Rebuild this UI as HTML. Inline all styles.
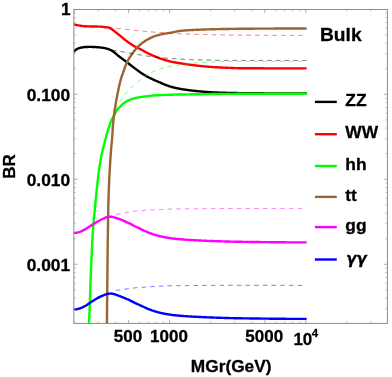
<!DOCTYPE html>
<html><head><meta charset="utf-8"><title>Bulk BR</title>
<style>html,body{margin:0;padding:0;background:#fff}svg{display:block;will-change:transform}</style></head>
<body>
<svg width="392" height="377" viewBox="0 0 392 377">
<rect width="392" height="377" fill="#fff"/>
<defs><clipPath id="c"><rect x="73.85" y="9.5" width="313.54999999999995" height="314.79999999999995"/></clipPath></defs>
<g fill="none" stroke-width="2.4" stroke-linejoin="round" clip-path="url(#c)">
<path d="M73.50 52.00 L74.00 51.46 L74.50 50.95 L75.00 50.47 L75.50 50.04 L76.00 49.66 L76.49 49.34 L76.99 49.05 L77.49 48.79 L77.99 48.54 L78.49 48.33 L78.99 48.15 L79.49 48.00 L79.99 47.88 L80.49 47.77 L80.99 47.66 L81.49 47.55 L81.99 47.46 L82.48 47.37 L82.98 47.29 L83.48 47.21 L83.98 47.15 L84.48 47.10 L84.98 47.05 L85.48 47.02 L85.98 47.00 L86.48 46.98 L86.98 46.96 L87.48 46.95 L87.98 46.94 L88.47 46.92 L88.97 46.92 L89.47 46.91 L89.97 46.90 L90.47 46.90 L90.97 46.90 L91.47 46.91 L91.97 46.91 L92.47 46.93 L92.97 46.95 L93.47 46.97 L93.96 46.99 L94.46 47.02 L94.96 47.04 L95.46 47.08 L95.96 47.11 L96.46 47.14 L96.96 47.18 L97.46 47.21 L97.96 47.25 L98.46 47.29 L98.96 47.33 L99.46 47.37 L99.95 47.42 L100.45 47.48 L100.95 47.54 L101.45 47.61 L101.95 47.68 L102.45 47.75 L102.95 47.83 L103.45 47.91 L103.95 47.99 L104.45 48.08 L104.95 48.18 L105.45 48.29 L105.94 48.41 L106.44 48.54 L106.94 48.67 L107.44 48.81 L107.94 48.96 L108.44 49.12 L108.94 49.30 L109.44 49.50 L109.94 49.72 L110.44 49.97 L110.94 50.23 L111.43 50.51 L111.93 50.80 L112.43 51.11 L112.93 51.43 L113.43 51.75 L113.93 52.10 L114.43 52.49 L114.93 52.90 L115.43 53.33 L115.93 53.77 L116.43 54.21 L116.93 54.65 L117.42 55.07 L117.92 55.48 L118.42 55.88 L118.92 56.27 L119.42 56.66 L119.92 57.04 L120.42 57.42 L120.92 57.79 L121.42 58.16 L121.92 58.52 L122.42 58.89 L122.92 59.25 L123.41 59.61 L123.91 59.97 L124.41 60.34 L124.91 60.71 L125.41 61.08 L125.91 61.46 L126.41 61.85 L126.91 62.23 L127.41 62.62 L127.91 63.01 L128.41 63.40 L128.90 63.79 L129.40 64.18 L129.90 64.56 L130.40 64.95 L130.90 65.33 L131.40 65.71 L131.90 66.09 L132.40 66.47 L132.90 66.85 L133.40 67.22 L133.90 67.60 L134.40 67.97 L134.89 68.35 L135.39 68.72 L135.89 69.09 L136.39 69.47 L136.89 69.85 L137.39 70.23 L137.89 70.61 L138.39 70.98 L138.89 71.36 L139.39 71.73 L139.89 72.09 L140.39 72.44 L140.88 72.79 L141.38 73.12 L141.88 73.45 L142.38 73.77 L142.88 74.08 L143.38 74.39 L143.88 74.69 L144.38 74.99 L144.88 75.28 L145.38 75.57 L145.88 75.85 L146.37 76.13 L146.87 76.41 L147.37 76.67 L147.87 76.94 L148.37 77.20 L148.87 77.46 L149.37 77.71 L149.87 77.96 L150.37 78.21 L150.87 78.45 L151.37 78.69 L151.87 78.93 L152.36 79.17 L152.86 79.40 L153.36 79.64 L153.86 79.87 L154.36 80.09 L154.86 80.32 L155.36 80.54 L155.86 80.76 L156.36 80.98 L156.86 81.20 L157.36 81.41 L157.86 81.62 L158.35 81.82 L158.85 82.03 L159.35 82.23 L159.85 82.44 L160.35 82.65 L160.85 82.87 L161.35 83.09 L161.85 83.32 L162.35 83.54 L162.85 83.76 L163.35 83.97 L163.84 84.18 L164.34 84.38 L164.84 84.57 L165.34 84.77 L165.84 84.96 L166.34 85.15 L166.84 85.34 L167.34 85.53 L167.84 85.71 L168.34 85.89 L168.84 86.07 L169.34 86.24 L169.83 86.41 L170.33 86.57 L170.83 86.72 L171.33 86.87 L171.83 87.01 L172.33 87.14 L172.83 87.28 L173.33 87.40 L173.83 87.53 L174.33 87.65 L174.83 87.77 L175.33 87.89 L175.82 88.00 L176.32 88.11 L176.82 88.22 L177.32 88.32 L177.82 88.42 L178.32 88.52 L178.82 88.62 L179.32 88.71 L179.82 88.80 L180.32 88.89 L180.82 88.98 L181.31 89.06 L181.81 89.15 L182.31 89.23 L182.81 89.31 L183.31 89.38 L183.81 89.46 L184.31 89.53 L184.81 89.60 L185.31 89.68 L185.81 89.74 L186.31 89.81 L186.81 89.88 L187.30 89.95 L187.80 90.01 L188.30 90.08 L188.80 90.14 L189.30 90.21 L189.80 90.27 L190.30 90.34 L190.80 90.40 L191.30 90.46 L191.80 90.52 L192.30 90.59 L192.80 90.65 L193.29 90.71 L193.79 90.76 L194.29 90.82 L194.79 90.88 L195.29 90.94 L195.79 90.99 L196.29 91.04 L196.79 91.10 L197.29 91.15 L197.79 91.20 L198.29 91.24 L198.79 91.29 L199.28 91.34 L199.78 91.38 L200.28 91.42 L200.78 91.47 L201.28 91.51 L201.78 91.55 L202.28 91.59 L202.78 91.63 L203.28 91.67 L203.78 91.71 L204.28 91.75 L204.77 91.79 L205.27 91.83 L205.77 91.87 L206.27 91.91 L206.77 91.94 L207.27 91.98 L207.77 92.01 L208.27 92.05 L208.77 92.08 L209.27 92.12 L209.77 92.15 L210.27 92.18 L210.76 92.21 L211.26 92.24 L211.76 92.27 L212.26 92.30 L212.76 92.33 L213.26 92.35 L213.76 92.38 L214.26 92.40 L214.76 92.43 L215.26 92.45 L215.76 92.47 L216.26 92.49 L216.75 92.51 L217.25 92.53 L217.75 92.55 L218.25 92.57 L218.75 92.58 L219.25 92.60 L219.75 92.62 L220.25 92.64 L220.75 92.65 L221.25 92.67 L221.75 92.69 L222.24 92.70 L222.74 92.72 L223.24 92.73 L223.74 92.75 L224.24 92.77 L224.74 92.78 L225.24 92.80 L225.74 92.81 L226.24 92.82 L226.74 92.84 L227.24 92.85 L227.74 92.87 L228.23 92.88 L228.73 92.89 L229.23 92.90 L229.73 92.92 L230.23 92.93 L230.73 92.94 L231.23 92.95 L231.73 92.96 L232.23 92.97 L232.73 92.98 L233.23 92.99 L233.73 93.00 L234.22 93.01 L234.72 93.02 L235.22 93.03 L235.72 93.04 L236.22 93.05 L236.72 93.06 L237.22 93.06 L237.72 93.07 L238.22 93.08 L238.72 93.08 L239.22 93.09 L239.71 93.10 L240.21 93.10 L240.71 93.11 L241.21 93.11 L241.71 93.12 L242.21 93.12 L242.71 93.13 L243.21 93.13 L243.71 93.14 L244.21 93.14 L244.71 93.15 L245.21 93.15 L245.70 93.16 L246.20 93.16 L246.70 93.17 L247.20 93.17 L247.70 93.18 L248.20 93.18 L248.70 93.19 L249.20 93.19 L249.70 93.20 L250.20 93.20 L250.70 93.21 L251.20 93.21 L251.69 93.22 L252.19 93.22 L252.69 93.23 L253.19 93.23 L253.69 93.24 L254.19 93.24 L254.69 93.25 L255.19 93.25 L255.69 93.26 L256.19 93.26 L256.69 93.26 L257.18 93.27 L257.68 93.27 L258.18 93.28 L258.68 93.28 L259.18 93.29 L259.68 93.29 L260.18 93.29 L260.68 93.30 L261.18 93.30 L261.68 93.31 L262.18 93.31 L262.68 93.31 L263.17 93.32 L263.67 93.32 L264.17 93.33 L264.67 93.33 L265.17 93.33 L265.67 93.34 L266.17 93.34 L266.67 93.34 L267.17 93.35 L267.67 93.35 L268.17 93.36 L268.67 93.36 L269.16 93.36 L269.66 93.37 L270.16 93.37 L270.66 93.37 L271.16 93.38 L271.66 93.38 L272.16 93.38 L272.66 93.39 L273.16 93.39 L273.66 93.39 L274.16 93.40 L274.65 93.40 L275.15 93.40 L275.65 93.40 L276.15 93.41 L276.65 93.41 L277.15 93.41 L277.65 93.42 L278.15 93.42 L278.65 93.42 L279.15 93.42 L279.65 93.43 L280.15 93.43 L280.64 93.43 L281.14 93.43 L281.64 93.44 L282.14 93.44 L282.64 93.44 L283.14 93.44 L283.64 93.45 L284.14 93.45 L284.64 93.45 L285.14 93.45 L285.64 93.45 L286.14 93.46 L286.63 93.46 L287.13 93.46 L287.63 93.46 L288.13 93.46 L288.63 93.47 L289.13 93.47 L289.63 93.47 L290.13 93.47 L290.63 93.47 L291.13 93.48 L291.63 93.48 L292.12 93.48 L292.62 93.48 L293.12 93.48 L293.62 93.48 L294.12 93.48 L294.62 93.48 L295.12 93.49 L295.62 93.49 L296.12 93.49 L296.62 93.49 L297.12 93.49 L297.62 93.49 L298.11 93.49 L298.61 93.49 L299.11 93.49 L299.61 93.49 L300.11 93.50 L300.61 93.50 L301.11 93.50 L301.61 93.50 L302.11 93.50 L302.61 93.50 L303.11 93.50 L303.61 93.50 L304.10 93.50 L304.60 93.50 L305.10 93.50 L305.60 93.50 L306.10 93.50 L306.60 93.50" stroke="#000"/>
<path d="M73.50 24.30 L74.00 24.43 L74.50 24.56 L75.00 24.69 L75.50 24.81 L76.00 24.93 L76.49 25.04 L76.99 25.15 L77.49 25.25 L77.99 25.35 L78.49 25.44 L78.99 25.52 L79.49 25.60 L79.99 25.67 L80.49 25.74 L80.99 25.81 L81.49 25.88 L81.99 25.95 L82.48 26.01 L82.98 26.07 L83.48 26.12 L83.98 26.17 L84.48 26.21 L84.98 26.25 L85.48 26.28 L85.98 26.30 L86.48 26.32 L86.98 26.34 L87.48 26.36 L87.98 26.37 L88.47 26.38 L88.97 26.40 L89.47 26.41 L89.97 26.42 L90.47 26.43 L90.97 26.44 L91.47 26.45 L91.97 26.46 L92.47 26.47 L92.97 26.48 L93.47 26.49 L93.96 26.50 L94.46 26.51 L94.96 26.52 L95.46 26.53 L95.96 26.54 L96.46 26.55 L96.96 26.56 L97.46 26.57 L97.96 26.58 L98.46 26.59 L98.96 26.60 L99.46 26.61 L99.95 26.63 L100.45 26.64 L100.95 26.66 L101.45 26.68 L101.95 26.71 L102.45 26.76 L102.95 26.84 L103.45 26.93 L103.95 27.03 L104.45 27.12 L104.95 27.19 L105.45 27.25 L105.94 27.29 L106.44 27.32 L106.94 27.36 L107.44 27.40 L107.94 27.46 L108.44 27.55 L108.94 27.70 L109.44 27.90 L109.94 28.16 L110.44 28.44 L110.94 28.73 L111.43 29.02 L111.93 29.33 L112.43 29.67 L112.93 30.05 L113.43 30.44 L113.93 30.84 L114.43 31.26 L114.93 31.66 L115.43 32.07 L115.93 32.45 L116.43 32.84 L116.93 33.24 L117.42 33.63 L117.92 34.02 L118.42 34.42 L118.92 34.82 L119.42 35.22 L119.92 35.62 L120.42 36.01 L120.92 36.41 L121.42 36.82 L121.92 37.23 L122.42 37.64 L122.92 38.06 L123.41 38.47 L123.91 38.88 L124.41 39.29 L124.91 39.70 L125.41 40.09 L125.91 40.48 L126.41 40.86 L126.91 41.23 L127.41 41.59 L127.91 41.95 L128.41 42.31 L128.90 42.66 L129.40 43.00 L129.90 43.34 L130.40 43.68 L130.90 44.01 L131.40 44.34 L131.90 44.66 L132.40 44.98 L132.90 45.31 L133.40 45.62 L133.90 45.94 L134.40 46.25 L134.89 46.55 L135.39 46.84 L135.89 47.12 L136.39 47.39 L136.89 47.65 L137.39 47.88 L137.89 48.10 L138.39 48.31 L138.89 48.51 L139.39 48.72 L139.89 48.95 L140.39 49.19 L140.88 49.44 L141.38 49.70 L141.88 49.96 L142.38 50.23 L142.88 50.51 L143.38 50.79 L143.88 51.07 L144.38 51.35 L144.88 51.64 L145.38 51.92 L145.88 52.19 L146.37 52.46 L146.87 52.73 L147.37 52.99 L147.87 53.24 L148.37 53.48 L148.87 53.72 L149.37 53.96 L149.87 54.19 L150.37 54.42 L150.87 54.65 L151.37 54.88 L151.87 55.10 L152.36 55.32 L152.86 55.54 L153.36 55.75 L153.86 55.96 L154.36 56.17 L154.86 56.38 L155.36 56.58 L155.86 56.78 L156.36 56.98 L156.86 57.18 L157.36 57.38 L157.86 57.57 L158.35 57.76 L158.85 57.95 L159.35 58.14 L159.85 58.32 L160.35 58.51 L160.85 58.69 L161.35 58.86 L161.85 59.03 L162.35 59.20 L162.85 59.37 L163.35 59.53 L163.84 59.68 L164.34 59.84 L164.84 59.99 L165.34 60.13 L165.84 60.28 L166.34 60.42 L166.84 60.57 L167.34 60.71 L167.84 60.84 L168.34 60.97 L168.84 61.10 L169.34 61.23 L169.83 61.35 L170.33 61.47 L170.83 61.59 L171.33 61.70 L171.83 61.81 L172.33 61.91 L172.83 62.01 L173.33 62.11 L173.83 62.20 L174.33 62.29 L174.83 62.38 L175.33 62.47 L175.82 62.55 L176.32 62.64 L176.82 62.72 L177.32 62.80 L177.82 62.88 L178.32 62.96 L178.82 63.04 L179.32 63.12 L179.82 63.20 L180.32 63.28 L180.82 63.36 L181.31 63.44 L181.81 63.52 L182.31 63.60 L182.81 63.68 L183.31 63.75 L183.81 63.83 L184.31 63.91 L184.81 63.98 L185.31 64.05 L185.81 64.13 L186.31 64.20 L186.81 64.27 L187.30 64.34 L187.80 64.41 L188.30 64.49 L188.80 64.56 L189.30 64.63 L189.80 64.70 L190.30 64.77 L190.80 64.84 L191.30 64.91 L191.80 64.97 L192.30 65.04 L192.80 65.11 L193.29 65.17 L193.79 65.24 L194.29 65.30 L194.79 65.36 L195.29 65.42 L195.79 65.48 L196.29 65.53 L196.79 65.59 L197.29 65.64 L197.79 65.70 L198.29 65.75 L198.79 65.81 L199.28 65.86 L199.78 65.91 L200.28 65.97 L200.78 66.02 L201.28 66.07 L201.78 66.12 L202.28 66.17 L202.78 66.22 L203.28 66.27 L203.78 66.32 L204.28 66.37 L204.77 66.42 L205.27 66.46 L205.77 66.51 L206.27 66.55 L206.77 66.60 L207.27 66.64 L207.77 66.68 L208.27 66.72 L208.77 66.77 L209.27 66.80 L209.77 66.84 L210.27 66.88 L210.76 66.92 L211.26 66.95 L211.76 66.98 L212.26 67.02 L212.76 67.05 L213.26 67.08 L213.76 67.11 L214.26 67.14 L214.76 67.17 L215.26 67.20 L215.76 67.23 L216.26 67.26 L216.75 67.28 L217.25 67.31 L217.75 67.34 L218.25 67.36 L218.75 67.39 L219.25 67.41 L219.75 67.44 L220.25 67.46 L220.75 67.49 L221.25 67.51 L221.75 67.53 L222.24 67.56 L222.74 67.58 L223.24 67.60 L223.74 67.62 L224.24 67.65 L224.74 67.67 L225.24 67.69 L225.74 67.71 L226.24 67.73 L226.74 67.75 L227.24 67.77 L227.74 67.79 L228.23 67.81 L228.73 67.83 L229.23 67.85 L229.73 67.87 L230.23 67.89 L230.73 67.91 L231.23 67.94 L231.73 67.96 L232.23 67.98 L232.73 68.00 L233.23 68.02 L233.73 68.04 L234.22 68.06 L234.72 68.08 L235.22 68.09 L235.72 68.11 L236.22 68.13 L236.72 68.14 L237.22 68.15 L237.72 68.17 L238.22 68.18 L238.72 68.19 L239.22 68.19 L239.71 68.20 L240.21 68.20 L240.71 68.20 L241.21 68.21 L241.71 68.21 L242.21 68.21 L242.71 68.22 L243.21 68.22 L243.71 68.22 L244.21 68.23 L244.71 68.23 L245.21 68.23 L245.70 68.24 L246.20 68.24 L246.70 68.24 L247.20 68.25 L247.70 68.25 L248.20 68.25 L248.70 68.25 L249.20 68.26 L249.70 68.26 L250.20 68.26 L250.70 68.27 L251.20 68.27 L251.69 68.27 L252.19 68.27 L252.69 68.28 L253.19 68.28 L253.69 68.28 L254.19 68.28 L254.69 68.29 L255.19 68.29 L255.69 68.29 L256.19 68.29 L256.69 68.30 L257.18 68.30 L257.68 68.30 L258.18 68.30 L258.68 68.30 L259.18 68.31 L259.68 68.31 L260.18 68.31 L260.68 68.31 L261.18 68.32 L261.68 68.32 L262.18 68.32 L262.68 68.32 L263.17 68.32 L263.67 68.33 L264.17 68.33 L264.67 68.33 L265.17 68.33 L265.67 68.33 L266.17 68.33 L266.67 68.34 L267.17 68.34 L267.67 68.34 L268.17 68.34 L268.67 68.34 L269.16 68.34 L269.66 68.35 L270.16 68.35 L270.66 68.35 L271.16 68.35 L271.66 68.35 L272.16 68.35 L272.66 68.36 L273.16 68.36 L273.66 68.36 L274.16 68.36 L274.65 68.36 L275.15 68.36 L275.65 68.36 L276.15 68.36 L276.65 68.37 L277.15 68.37 L277.65 68.37 L278.15 68.37 L278.65 68.37 L279.15 68.37 L279.65 68.37 L280.15 68.37 L280.64 68.37 L281.14 68.38 L281.64 68.38 L282.14 68.38 L282.64 68.38 L283.14 68.38 L283.64 68.38 L284.14 68.38 L284.64 68.38 L285.14 68.38 L285.64 68.38 L286.14 68.38 L286.63 68.39 L287.13 68.39 L287.63 68.39 L288.13 68.39 L288.63 68.39 L289.13 68.39 L289.63 68.39 L290.13 68.39 L290.63 68.39 L291.13 68.39 L291.63 68.39 L292.12 68.39 L292.62 68.39 L293.12 68.39 L293.62 68.39 L294.12 68.39 L294.62 68.39 L295.12 68.40 L295.62 68.40 L296.12 68.40 L296.62 68.40 L297.12 68.40 L297.62 68.40 L298.11 68.40 L298.61 68.40 L299.11 68.40 L299.61 68.40 L300.11 68.40 L300.61 68.40 L301.11 68.40 L301.61 68.40 L302.11 68.40 L302.61 68.40 L303.11 68.40 L303.61 68.40 L304.10 68.40 L304.60 68.40 L305.10 68.40 L305.60 68.40 L306.10 68.40 L306.60 68.40" stroke="#f00"/>
<path d="M89.00 324.00 L89.02 323.50 L89.04 323.00 L89.06 322.50 L89.08 322.00 L89.10 321.50 L89.12 321.00 L89.15 320.51 L89.17 320.01 L89.19 319.51 L89.21 319.01 L89.23 318.51 L89.25 318.01 L89.27 317.51 L89.29 317.01 L89.31 316.51 L89.33 316.01 L89.35 315.51 L89.37 315.01 L89.39 314.51 L89.41 314.02 L89.43 313.52 L89.44 313.02 L89.46 312.52 L89.48 312.02 L89.50 311.52 L89.52 311.02 L89.54 310.52 L89.56 310.02 L89.58 309.52 L89.60 309.02 L89.62 308.52 L89.64 308.02 L89.66 307.53 L89.67 307.03 L89.69 306.53 L89.71 306.03 L89.73 305.53 L89.75 305.03 L89.77 304.53 L89.79 304.03 L89.80 303.53 L89.82 303.03 L89.84 302.53 L89.86 302.03 L89.88 301.53 L89.90 301.03 L89.91 300.54 L89.93 300.04 L89.95 299.54 L89.97 299.04 L89.98 298.54 L90.00 298.04 L90.02 297.54 L90.04 297.04 L90.06 296.54 L90.07 296.04 L90.09 295.54 L90.11 295.04 L90.13 294.54 L90.14 294.04 L90.16 293.54 L90.18 293.05 L90.19 292.55 L90.21 292.05 L90.23 291.55 L90.25 291.05 L90.26 290.55 L90.28 290.05 L90.29 289.55 L90.31 289.05 L90.32 288.55 L90.34 288.05 L90.36 287.55 L90.37 287.05 L90.39 286.55 L90.40 286.05 L90.42 285.56 L90.43 285.06 L90.45 284.56 L90.46 284.06 L90.48 283.56 L90.50 283.06 L90.51 282.56 L90.53 282.06 L90.55 281.56 L90.56 281.06 L90.58 280.56 L90.60 280.06 L90.62 279.56 L90.63 279.06 L90.65 278.56 L90.67 278.07 L90.69 277.57 L90.71 277.07 L90.73 276.57 L90.75 276.07 L90.77 275.57 L90.79 275.07 L90.80 274.57 L90.82 274.07 L90.84 273.57 L90.86 273.07 L90.88 272.57 L90.90 272.07 L90.92 271.57 L90.94 271.08 L90.96 270.58 L90.98 270.08 L91.01 269.58 L91.03 269.08 L91.05 268.58 L91.07 268.08 L91.09 267.58 L91.11 267.08 L91.13 266.58 L91.15 266.08 L91.17 265.58 L91.20 265.09 L91.22 264.59 L91.24 264.09 L91.26 263.59 L91.28 263.09 L91.31 262.59 L91.33 262.09 L91.35 261.59 L91.37 261.09 L91.40 260.59 L91.42 260.09 L91.44 259.59 L91.46 259.10 L91.49 258.60 L91.51 258.10 L91.53 257.60 L91.56 257.10 L91.58 256.60 L91.60 256.10 L91.63 255.60 L91.65 255.10 L91.68 254.60 L91.70 254.10 L91.72 253.61 L91.75 253.11 L91.77 252.61 L91.80 252.11 L91.82 251.61 L91.85 251.11 L91.87 250.61 L91.89 250.11 L91.92 249.61 L91.94 249.11 L91.97 248.62 L91.99 248.12 L92.02 247.62 L92.04 247.12 L92.07 246.62 L92.09 246.12 L92.12 245.62 L92.14 245.12 L92.17 244.62 L92.19 244.12 L92.22 243.63 L92.24 243.13 L92.27 242.63 L92.29 242.13 L92.32 241.63 L92.35 241.13 L92.37 240.63 L92.40 240.13 L92.43 239.63 L92.45 239.13 L92.48 238.63 L92.51 238.14 L92.53 237.64 L92.56 237.14 L92.59 236.64 L92.62 236.14 L92.65 235.64 L92.67 235.14 L92.70 234.64 L92.73 234.14 L92.76 233.65 L92.79 233.15 L92.82 232.65 L92.85 232.15 L92.88 231.65 L92.92 231.15 L92.95 230.65 L92.98 230.16 L93.01 229.66 L93.04 229.16 L93.08 228.66 L93.11 228.16 L93.15 227.66 L93.18 227.17 L93.22 226.67 L93.25 226.17 L93.29 225.67 L93.32 225.17 L93.36 224.67 L93.40 224.18 L93.44 223.68 L93.49 223.18 L93.53 222.68 L93.58 222.19 L93.62 221.69 L93.67 221.19 L93.72 220.69 L93.76 220.20 L93.81 219.70 L93.86 219.20 L93.91 218.71 L93.97 218.21 L94.02 217.71 L94.07 217.21 L94.12 216.72 L94.17 216.22 L94.23 215.72 L94.28 215.23 L94.33 214.73 L94.38 214.23 L94.43 213.74 L94.48 213.24 L94.53 212.74 L94.58 212.24 L94.63 211.75 L94.68 211.25 L94.73 210.75 L94.78 210.25 L94.82 209.76 L94.87 209.26 L94.91 208.76 L94.96 208.26 L95.00 207.77 L95.04 207.27 L95.09 206.77 L95.13 206.27 L95.17 205.78 L95.22 205.28 L95.26 204.78 L95.30 204.28 L95.35 203.78 L95.39 203.29 L95.44 202.79 L95.48 202.29 L95.53 201.79 L95.58 201.30 L95.62 200.80 L95.67 200.30 L95.72 199.80 L95.76 199.31 L95.81 198.81 L95.86 198.31 L95.91 197.81 L95.95 197.32 L96.00 196.82 L96.05 196.32 L96.10 195.83 L96.15 195.33 L96.20 194.83 L96.25 194.33 L96.29 193.84 L96.34 193.34 L96.39 192.84 L96.44 192.34 L96.49 191.85 L96.55 191.35 L96.60 190.85 L96.65 190.36 L96.70 189.86 L96.75 189.36 L96.80 188.87 L96.86 188.37 L96.91 187.87 L96.96 187.38 L97.02 186.88 L97.07 186.38 L97.12 185.89 L97.18 185.39 L97.23 184.89 L97.29 184.40 L97.34 183.90 L97.40 183.40 L97.46 182.91 L97.51 182.41 L97.57 181.91 L97.62 181.42 L97.68 180.92 L97.74 180.42 L97.79 179.93 L97.85 179.43 L97.91 178.93 L97.97 178.44 L98.03 177.94 L98.09 177.45 L98.15 176.95 L98.21 176.45 L98.27 175.96 L98.33 175.46 L98.39 174.96 L98.45 174.47 L98.51 173.97 L98.58 173.48 L98.64 172.98 L98.71 172.49 L98.77 171.99 L98.84 171.50 L98.91 171.00 L98.97 170.51 L99.04 170.01 L99.11 169.52 L99.18 169.02 L99.25 168.53 L99.32 168.03 L99.40 167.54 L99.47 167.05 L99.55 166.55 L99.62 166.06 L99.70 165.57 L99.78 165.07 L99.86 164.58 L99.94 164.09 L100.02 163.59 L100.10 163.10 L100.19 162.61 L100.27 162.11 L100.36 161.62 L100.44 161.13 L100.53 160.64 L100.62 160.14 L100.71 159.65 L100.80 159.16 L100.89 158.67 L100.98 158.18 L101.08 157.69 L101.17 157.20 L101.26 156.71 L101.36 156.22 L101.46 155.73 L101.55 155.24 L101.65 154.75 L101.75 154.26 L101.85 153.77 L101.96 153.28 L102.06 152.79 L102.17 152.30 L102.28 151.82 L102.39 151.33 L102.50 150.84 L102.61 150.35 L102.72 149.87 L102.84 149.38 L102.95 148.89 L103.07 148.41 L103.19 147.92 L103.30 147.44 L103.42 146.95 L103.54 146.47 L103.66 145.98 L103.78 145.50 L103.90 145.01 L104.02 144.53 L104.14 144.04 L104.26 143.56 L104.38 143.07 L104.51 142.59 L104.63 142.10 L104.76 141.62 L104.89 141.14 L105.02 140.65 L105.14 140.17 L105.27 139.69 L105.40 139.21 L105.54 138.72 L105.67 138.24 L105.80 137.76 L105.93 137.28 L106.07 136.80 L106.20 136.32 L106.33 135.84 L106.47 135.35 L106.60 134.87 L106.74 134.39 L106.88 133.91 L107.02 133.43 L107.15 132.95 L107.29 132.47 L107.43 131.99 L107.58 131.51 L107.72 131.03 L107.86 130.55 L108.01 130.08 L108.16 129.60 L108.31 129.12 L108.46 128.65 L108.61 128.17 L108.76 127.70 L108.92 127.22 L109.07 126.75 L109.23 126.27 L109.39 125.79 L109.55 125.32 L109.71 124.84 L109.87 124.37 L110.04 123.90 L110.21 123.43 L110.38 122.96 L110.56 122.49 L110.74 122.03 L110.92 121.57 L111.11 121.11 L111.31 120.65 L111.51 120.20 L111.72 119.74 L111.94 119.30 L112.17 118.85 L112.40 118.41 L112.63 117.96 L112.87 117.52 L113.10 117.08 L113.34 116.64 L113.58 116.20 L113.82 115.76 L114.05 115.32 L114.28 114.87 L114.51 114.42 L114.74 113.97 L114.97 113.53 L115.21 113.08 L115.44 112.64 L115.69 112.21 L115.94 111.78 L116.20 111.36 L116.47 110.94 L116.75 110.54 L117.05 110.14 L117.35 109.75 L117.67 109.36 L117.99 108.98 L118.32 108.60 L118.66 108.22 L119.00 107.85 L119.35 107.49 L119.69 107.12 L120.04 106.77 L120.39 106.41 L120.74 106.05 L121.09 105.70 L121.45 105.34 L121.81 104.99 L122.17 104.64 L122.54 104.30 L122.92 103.96 L123.30 103.63 L123.68 103.32 L124.07 103.01 L124.47 102.72 L124.87 102.44 L125.29 102.17 L125.71 101.90 L126.14 101.64 L126.57 101.39 L127.01 101.14 L127.46 100.90 L127.90 100.67 L128.36 100.44 L128.81 100.23 L129.27 100.03 L129.72 99.83 L130.18 99.65 L130.64 99.47 L131.11 99.29 L131.58 99.13 L132.06 98.96 L132.54 98.81 L133.02 98.66 L133.50 98.52 L133.98 98.38 L134.47 98.25 L134.95 98.14 L135.43 98.02 L135.92 97.92 L136.41 97.82 L136.90 97.72 L137.39 97.63 L137.89 97.55 L138.38 97.46 L138.87 97.38 L139.37 97.30 L139.86 97.22 L140.35 97.14 L140.85 97.07 L141.34 96.99 L141.84 96.92 L142.33 96.84 L142.82 96.77 L143.32 96.70 L143.81 96.63 L144.31 96.57 L144.80 96.50 L145.30 96.43 L145.80 96.37 L146.29 96.31 L146.79 96.25 L147.28 96.18 L147.78 96.13 L148.28 96.07 L148.77 96.01 L149.27 95.95 L149.76 95.89 L150.26 95.83 L150.76 95.78 L151.25 95.72 L151.75 95.66 L152.25 95.61 L152.75 95.56 L153.24 95.51 L153.74 95.46 L154.24 95.42 L154.74 95.38 L155.23 95.34 L155.73 95.31 L156.23 95.28 L156.73 95.25 L157.23 95.23 L157.72 95.20 L158.22 95.17 L158.72 95.15 L159.22 95.13 L159.72 95.10 L160.22 95.08 L160.72 95.06 L161.22 95.04 L161.72 95.02 L162.22 95.00 L162.72 94.98 L163.21 94.96 L163.71 94.94 L164.21 94.92 L164.71 94.90 L165.21 94.89 L165.71 94.87 L166.21 94.86 L166.71 94.84 L167.21 94.82 L167.71 94.81 L168.21 94.80 L168.71 94.78 L169.21 94.77 L169.71 94.75 L170.21 94.74 L170.71 94.73 L171.21 94.71 L171.71 94.70 L172.21 94.69 L172.71 94.68 L173.21 94.67 L173.71 94.65 L174.21 94.64 L174.70 94.63 L175.20 94.62 L175.70 94.61 L176.20 94.60 L176.70 94.59 L177.20 94.57 L177.70 94.56 L178.20 94.55 L178.70 94.54 L179.20 94.53 L179.70 94.52 L180.20 94.51 L180.70 94.50 L181.20 94.49 L181.70 94.48 L182.20 94.47 L182.70 94.46 L183.20 94.46 L183.70 94.45 L184.20 94.44 L184.69 94.43 L185.19 94.42 L185.69 94.41 L186.19 94.40 L186.69 94.39 L187.19 94.39 L187.69 94.38 L188.19 94.37 L188.69 94.36 L189.19 94.35 L189.69 94.35 L190.19 94.34 L190.69 94.33 L191.19 94.32 L191.69 94.32 L192.19 94.31 L192.69 94.30 L193.19 94.29 L193.69 94.29 L194.19 94.28 L194.69 94.27 L195.19 94.26 L195.69 94.26 L196.19 94.25 L196.69 94.24 L197.18 94.24 L197.68 94.23 L198.18 94.22 L198.68 94.22 L199.18 94.21 L199.68 94.20 L200.18 94.20 L200.68 94.19 L201.18 94.18 L201.68 94.18 L202.18 94.17 L202.68 94.17 L203.18 94.16 L203.68 94.15 L204.18 94.15 L204.68 94.14 L205.18 94.13 L205.68 94.13 L206.18 94.12 L206.68 94.11 L207.18 94.11 L207.68 94.10 L208.18 94.09 L208.67 94.09 L209.17 94.08 L209.67 94.07 L210.17 94.07 L210.67 94.06 L211.17 94.05 L211.67 94.05 L212.17 94.04 L212.67 94.04 L213.17 94.03 L213.67 94.02 L214.17 94.02 L214.67 94.01 L215.17 94.01 L215.67 94.00 L216.17 93.99 L216.67 93.99 L217.17 93.98 L217.67 93.98 L218.17 93.97 L218.67 93.96 L219.17 93.96 L219.67 93.95 L220.17 93.95 L220.67 93.94 L221.16 93.94 L221.66 93.93 L222.16 93.93 L222.66 93.92 L223.16 93.92 L223.66 93.91 L224.16 93.91 L224.66 93.90 L225.16 93.90 L225.66 93.89 L226.16 93.89 L226.66 93.88 L227.16 93.88 L227.66 93.87 L228.16 93.87 L228.66 93.86 L229.16 93.86 L229.66 93.86 L230.16 93.85 L230.66 93.85 L231.16 93.85 L231.66 93.84 L232.16 93.84 L232.66 93.83 L233.16 93.83 L233.66 93.83 L234.15 93.83 L234.65 93.82 L235.15 93.82 L235.65 93.82 L236.15 93.81 L236.65 93.81 L237.15 93.81 L237.65 93.81 L238.15 93.81 L238.65 93.80 L239.15 93.80 L239.65 93.80 L240.15 93.80 L240.65 93.80 L241.15 93.80 L241.65 93.80 L242.15 93.79 L242.65 93.79 L243.15 93.79 L243.65 93.79 L244.15 93.79 L244.65 93.79 L245.15 93.79 L245.65 93.78 L246.15 93.78 L246.64 93.78 L247.14 93.78 L247.64 93.78 L248.14 93.78 L248.64 93.78 L249.14 93.78 L249.64 93.77 L250.14 93.77 L250.64 93.77 L251.14 93.77 L251.64 93.77 L252.14 93.77 L252.64 93.77 L253.14 93.77 L253.64 93.77 L254.14 93.76 L254.64 93.76 L255.14 93.76 L255.64 93.76 L256.14 93.76 L256.64 93.76 L257.14 93.76 L257.64 93.76 L258.14 93.76 L258.64 93.75 L259.14 93.75 L259.63 93.75 L260.13 93.75 L260.63 93.75 L261.13 93.75 L261.63 93.75 L262.13 93.75 L262.63 93.75 L263.13 93.74 L263.63 93.74 L264.13 93.74 L264.63 93.74 L265.13 93.74 L265.63 93.74 L266.13 93.74 L266.63 93.74 L267.13 93.74 L267.63 93.74 L268.13 93.74 L268.63 93.73 L269.13 93.73 L269.63 93.73 L270.13 93.73 L270.63 93.73 L271.13 93.73 L271.63 93.73 L272.13 93.73 L272.63 93.73 L273.12 93.73 L273.62 93.73 L274.12 93.73 L274.62 93.72 L275.12 93.72 L275.62 93.72 L276.12 93.72 L276.62 93.72 L277.12 93.72 L277.62 93.72 L278.12 93.72 L278.62 93.72 L279.12 93.72 L279.62 93.72 L280.12 93.72 L280.62 93.72 L281.12 93.72 L281.62 93.72 L282.12 93.71 L282.62 93.71 L283.12 93.71 L283.62 93.71 L284.12 93.71 L284.62 93.71 L285.12 93.71 L285.62 93.71 L286.12 93.71 L286.61 93.71 L287.11 93.71 L287.61 93.71 L288.11 93.71 L288.61 93.71 L289.11 93.71 L289.61 93.71 L290.11 93.71 L290.61 93.71 L291.11 93.71 L291.61 93.71 L292.11 93.71 L292.61 93.70 L293.11 93.70 L293.61 93.70 L294.11 93.70 L294.61 93.70 L295.11 93.70 L295.61 93.70 L296.11 93.70 L296.61 93.70 L297.11 93.70 L297.61 93.70 L298.11 93.70 L298.61 93.70 L299.11 93.70 L299.61 93.70 L300.10 93.70 L300.60 93.70 L301.10 93.70 L301.60 93.70 L302.10 93.70 L302.60 93.70 L303.10 93.70 L303.60 93.70 L304.10 93.70 L304.60 93.70 L305.10 93.70 L305.60 93.70 L306.10 93.70 L306.60 93.70" stroke="#0f0"/>
<path d="M106.90 324.00 L106.90 323.50 L106.91 323.00 L106.91 322.50 L106.92 322.00 L106.92 321.50 L106.93 321.00 L106.93 320.50 L106.94 320.00 L106.94 319.50 L106.95 319.00 L106.95 318.50 L106.96 318.00 L106.96 317.51 L106.97 317.01 L106.97 316.51 L106.98 316.01 L106.98 315.51 L106.99 315.01 L106.99 314.51 L107.00 314.01 L107.00 313.51 L107.01 313.01 L107.01 312.51 L107.02 312.01 L107.02 311.51 L107.03 311.01 L107.03 310.51 L107.04 310.01 L107.04 309.51 L107.05 309.01 L107.05 308.51 L107.06 308.01 L107.06 307.51 L107.07 307.01 L107.07 306.51 L107.08 306.01 L107.08 305.51 L107.09 305.01 L107.09 304.52 L107.10 304.02 L107.10 303.52 L107.11 303.02 L107.11 302.52 L107.12 302.02 L107.12 301.52 L107.13 301.02 L107.13 300.52 L107.14 300.02 L107.14 299.52 L107.15 299.02 L107.15 298.52 L107.16 298.02 L107.16 297.52 L107.17 297.02 L107.18 296.52 L107.18 296.02 L107.19 295.52 L107.19 295.02 L107.20 294.52 L107.20 294.02 L107.21 293.52 L107.21 293.02 L107.22 292.52 L107.22 292.02 L107.23 291.53 L107.23 291.03 L107.24 290.53 L107.24 290.03 L107.25 289.53 L107.25 289.03 L107.26 288.53 L107.26 288.03 L107.27 287.53 L107.27 287.03 L107.28 286.53 L107.29 286.03 L107.29 285.53 L107.30 285.03 L107.30 284.53 L107.31 284.03 L107.31 283.53 L107.32 283.03 L107.32 282.53 L107.33 282.03 L107.33 281.53 L107.34 281.03 L107.34 280.53 L107.35 280.03 L107.36 279.53 L107.36 279.04 L107.37 278.54 L107.37 278.04 L107.38 277.54 L107.38 277.04 L107.39 276.54 L107.39 276.04 L107.40 275.54 L107.40 275.04 L107.41 274.54 L107.41 274.04 L107.42 273.54 L107.42 273.04 L107.43 272.54 L107.43 272.04 L107.44 271.54 L107.44 271.04 L107.45 270.54 L107.45 270.04 L107.46 269.54 L107.47 269.04 L107.47 268.54 L107.48 268.04 L107.48 267.54 L107.49 267.04 L107.49 266.54 L107.50 266.05 L107.50 265.55 L107.51 265.05 L107.51 264.55 L107.52 264.05 L107.52 263.55 L107.53 263.05 L107.53 262.55 L107.54 262.05 L107.54 261.55 L107.55 261.05 L107.55 260.55 L107.56 260.05 L107.56 259.55 L107.57 259.05 L107.57 258.55 L107.58 258.05 L107.59 257.55 L107.59 257.05 L107.60 256.55 L107.60 256.05 L107.61 255.55 L107.61 255.05 L107.62 254.55 L107.62 254.05 L107.63 253.55 L107.63 253.06 L107.64 252.56 L107.64 252.06 L107.65 251.56 L107.66 251.06 L107.66 250.56 L107.67 250.06 L107.67 249.56 L107.68 249.06 L107.68 248.56 L107.69 248.06 L107.70 247.56 L107.70 247.06 L107.71 246.56 L107.71 246.06 L107.72 245.56 L107.73 245.06 L107.73 244.56 L107.74 244.06 L107.74 243.56 L107.75 243.06 L107.76 242.56 L107.76 242.06 L107.77 241.56 L107.77 241.06 L107.78 240.57 L107.79 240.07 L107.79 239.57 L107.80 239.07 L107.81 238.57 L107.81 238.07 L107.82 237.57 L107.83 237.07 L107.83 236.57 L107.84 236.07 L107.85 235.57 L107.85 235.07 L107.86 234.57 L107.87 234.07 L107.87 233.57 L107.88 233.07 L107.89 232.57 L107.90 232.07 L107.90 231.57 L107.91 231.07 L107.92 230.57 L107.93 230.07 L107.93 229.57 L107.94 229.07 L107.95 228.58 L107.96 228.08 L107.96 227.58 L107.97 227.08 L107.98 226.58 L107.99 226.08 L107.99 225.58 L108.00 225.08 L108.01 224.58 L108.02 224.08 L108.03 223.58 L108.03 223.08 L108.04 222.58 L108.05 222.08 L108.06 221.58 L108.07 221.08 L108.08 220.58 L108.08 220.08 L108.09 219.58 L108.10 219.08 L108.11 218.58 L108.12 218.08 L108.13 217.58 L108.14 217.08 L108.15 216.59 L108.15 216.09 L108.16 215.59 L108.17 215.09 L108.18 214.59 L108.19 214.09 L108.20 213.59 L108.21 213.09 L108.22 212.59 L108.23 212.09 L108.24 211.59 L108.25 211.09 L108.26 210.59 L108.27 210.09 L108.28 209.59 L108.29 209.09 L108.30 208.59 L108.31 208.09 L108.32 207.59 L108.33 207.09 L108.35 206.59 L108.36 206.09 L108.37 205.60 L108.38 205.10 L108.39 204.60 L108.40 204.10 L108.41 203.60 L108.42 203.10 L108.44 202.60 L108.45 202.10 L108.46 201.60 L108.47 201.10 L108.49 200.60 L108.50 200.10 L108.51 199.60 L108.52 199.10 L108.54 198.60 L108.55 198.10 L108.56 197.60 L108.58 197.10 L108.59 196.61 L108.61 196.11 L108.62 195.61 L108.64 195.11 L108.65 194.61 L108.67 194.11 L108.69 193.61 L108.70 193.11 L108.72 192.61 L108.74 192.11 L108.76 191.61 L108.77 191.11 L108.79 190.61 L108.81 190.11 L108.83 189.61 L108.85 189.11 L108.87 188.62 L108.88 188.12 L108.90 187.62 L108.92 187.12 L108.94 186.62 L108.96 186.12 L108.98 185.62 L109.00 185.12 L109.02 184.62 L109.04 184.12 L109.07 183.62 L109.09 183.12 L109.11 182.62 L109.13 182.13 L109.15 181.63 L109.18 181.13 L109.20 180.63 L109.22 180.13 L109.25 179.63 L109.27 179.13 L109.29 178.63 L109.32 178.13 L109.34 177.63 L109.37 177.13 L109.39 176.64 L109.42 176.14 L109.44 175.64 L109.47 175.14 L109.50 174.64 L109.52 174.14 L109.55 173.64 L109.58 173.14 L109.60 172.64 L109.63 172.14 L109.66 171.65 L109.68 171.15 L109.71 170.65 L109.74 170.15 L109.77 169.65 L109.80 169.15 L109.83 168.65 L109.85 168.15 L109.88 167.66 L109.91 167.16 L109.94 166.66 L109.97 166.16 L110.00 165.66 L110.03 165.16 L110.06 164.66 L110.09 164.16 L110.12 163.67 L110.15 163.17 L110.18 162.67 L110.21 162.17 L110.24 161.67 L110.27 161.17 L110.30 160.67 L110.34 160.17 L110.37 159.68 L110.40 159.18 L110.43 158.68 L110.47 158.18 L110.50 157.68 L110.53 157.18 L110.57 156.68 L110.60 156.19 L110.63 155.69 L110.67 155.19 L110.70 154.69 L110.74 154.19 L110.78 153.69 L110.81 153.19 L110.85 152.70 L110.89 152.20 L110.92 151.70 L110.96 151.20 L111.00 150.70 L111.04 150.21 L111.08 149.71 L111.12 149.21 L111.16 148.71 L111.20 148.21 L111.24 147.72 L111.28 147.22 L111.32 146.72 L111.37 146.22 L111.42 145.73 L111.47 145.23 L111.52 144.73 L111.57 144.23 L111.63 143.74 L111.68 143.24 L111.73 142.74 L111.79 142.25 L111.84 141.75 L111.89 141.25 L111.93 140.76 L111.98 140.26 L112.02 139.76 L112.06 139.26 L112.10 138.76 L112.13 138.27 L112.17 137.77 L112.21 137.27 L112.24 136.77 L112.27 136.27 L112.31 135.77 L112.34 135.27 L112.37 134.78 L112.40 134.28 L112.43 133.78 L112.46 133.28 L112.49 132.78 L112.52 132.28 L112.55 131.78 L112.58 131.28 L112.61 130.78 L112.64 130.29 L112.67 129.79 L112.70 129.29 L112.73 128.79 L112.76 128.29 L112.79 127.79 L112.83 127.29 L112.86 126.79 L112.90 126.30 L112.93 125.80 L112.97 125.30 L113.01 124.80 L113.05 124.30 L113.09 123.81 L113.13 123.31 L113.18 122.81 L113.23 122.32 L113.27 121.82 L113.32 121.32 L113.37 120.82 L113.43 120.33 L113.48 119.83 L113.54 119.33 L113.59 118.84 L113.65 118.34 L113.71 117.84 L113.77 117.35 L113.82 116.85 L113.89 116.36 L113.95 115.86 L114.01 115.36 L114.07 114.87 L114.14 114.37 L114.20 113.88 L114.27 113.38 L114.33 112.89 L114.40 112.39 L114.47 111.89 L114.53 111.40 L114.60 110.90 L114.67 110.41 L114.74 109.92 L114.81 109.42 L114.88 108.93 L114.95 108.43 L115.03 107.94 L115.10 107.44 L115.18 106.95 L115.26 106.46 L115.34 105.96 L115.42 105.47 L115.50 104.98 L115.58 104.48 L115.66 103.99 L115.74 103.50 L115.83 103.01 L115.91 102.51 L116.00 102.02 L116.08 101.53 L116.17 101.04 L116.26 100.54 L116.34 100.05 L116.43 99.56 L116.52 99.07 L116.61 98.58 L116.70 98.09 L116.80 97.60 L116.89 97.10 L116.98 96.61 L117.08 96.12 L117.17 95.63 L117.27 95.14 L117.37 94.65 L117.47 94.16 L117.57 93.67 L117.67 93.18 L117.77 92.69 L117.87 92.20 L117.97 91.72 L118.07 91.23 L118.18 90.74 L118.28 90.25 L118.39 89.76 L118.49 89.27 L118.60 88.78 L118.70 88.30 L118.81 87.81 L118.91 87.32 L119.02 86.83 L119.13 86.34 L119.24 85.85 L119.34 85.36 L119.45 84.87 L119.57 84.39 L119.68 83.90 L119.79 83.41 L119.91 82.93 L120.03 82.44 L120.15 81.96 L120.27 81.47 L120.39 80.99 L120.52 80.50 L120.65 80.02 L120.78 79.54 L120.91 79.06 L121.05 78.58 L121.19 78.11 L121.34 77.63 L121.49 77.15 L121.65 76.68 L121.81 76.21 L121.97 75.73 L122.13 75.26 L122.30 74.79 L122.47 74.32 L122.64 73.85 L122.81 73.37 L122.98 72.90 L123.14 72.43 L123.31 71.96 L123.48 71.49 L123.65 71.02 L123.81 70.55 L123.98 70.07 L124.14 69.60 L124.31 69.13 L124.47 68.65 L124.64 68.18 L124.81 67.70 L124.98 67.23 L125.15 66.76 L125.32 66.29 L125.50 65.82 L125.68 65.36 L125.87 64.89 L126.05 64.43 L126.24 63.97 L126.44 63.52 L126.64 63.06 L126.85 62.61 L127.06 62.17 L127.28 61.72 L127.50 61.28 L127.73 60.84 L127.97 60.40 L128.21 59.96 L128.46 59.53 L128.71 59.09 L128.97 58.66 L129.23 58.23 L129.49 57.80 L129.76 57.38 L130.03 56.95 L130.30 56.53 L130.58 56.11 L130.86 55.69 L131.13 55.28 L131.41 54.86 L131.69 54.45 L131.98 54.04 L132.26 53.64 L132.55 53.23 L132.84 52.82 L133.14 52.41 L133.43 52.01 L133.73 51.61 L134.04 51.21 L134.35 50.81 L134.66 50.42 L134.97 50.03 L135.29 49.64 L135.62 49.26 L135.94 48.88 L136.27 48.50 L136.60 48.13 L136.94 47.77 L137.28 47.41 L137.63 47.06 L137.98 46.70 L138.34 46.35 L138.70 46.01 L139.07 45.66 L139.44 45.33 L139.81 44.99 L140.19 44.66 L140.58 44.34 L140.97 44.02 L141.36 43.70 L141.75 43.40 L142.14 43.09 L142.54 42.80 L142.94 42.51 L143.35 42.22 L143.76 41.93 L144.17 41.65 L144.59 41.38 L145.01 41.10 L145.43 40.83 L145.86 40.57 L146.29 40.31 L146.72 40.05 L147.16 39.80 L147.59 39.56 L148.03 39.31 L148.47 39.08 L148.91 38.84 L149.35 38.61 L149.79 38.38 L150.24 38.15 L150.69 37.92 L151.14 37.70 L151.59 37.48 L152.04 37.27 L152.50 37.06 L152.96 36.86 L153.42 36.66 L153.88 36.47 L154.35 36.30 L154.82 36.13 L155.29 35.97 L155.76 35.82 L156.23 35.68 L156.71 35.54 L157.19 35.40 L157.67 35.27 L158.15 35.14 L158.64 35.02 L159.12 34.90 L159.61 34.78 L160.10 34.66 L160.59 34.55 L161.08 34.44 L161.57 34.34 L162.06 34.23 L162.55 34.13 L163.04 34.03 L163.53 33.93 L164.02 33.84 L164.51 33.74 L165.00 33.66 L165.49 33.57 L165.99 33.49 L166.48 33.41 L166.97 33.33 L167.47 33.25 L167.96 33.17 L168.46 33.10 L168.95 33.02 L169.44 32.94 L169.94 32.86 L170.43 32.78 L170.93 32.70 L171.42 32.62 L171.91 32.53 L172.40 32.44 L172.89 32.35 L173.38 32.25 L173.87 32.14 L174.36 32.03 L174.85 31.93 L175.34 31.81 L175.83 31.70 L176.32 31.60 L176.81 31.49 L177.29 31.38 L177.78 31.29 L178.28 31.19 L178.77 31.11 L179.26 31.03 L179.75 30.96 L180.24 30.90 L180.74 30.84 L181.23 30.79 L181.73 30.74 L182.23 30.69 L182.72 30.64 L183.22 30.59 L183.72 30.55 L184.22 30.51 L184.71 30.47 L185.21 30.43 L185.71 30.39 L186.21 30.36 L186.71 30.32 L187.21 30.29 L187.71 30.26 L188.21 30.23 L188.71 30.20 L189.21 30.17 L189.71 30.14 L190.21 30.11 L190.70 30.08 L191.20 30.06 L191.70 30.03 L192.20 30.00 L192.70 29.98 L193.20 29.95 L193.70 29.93 L194.20 29.91 L194.70 29.88 L195.19 29.86 L195.69 29.84 L196.19 29.81 L196.69 29.79 L197.19 29.77 L197.69 29.75 L198.19 29.73 L198.69 29.70 L199.19 29.68 L199.69 29.66 L200.19 29.64 L200.69 29.62 L201.19 29.61 L201.68 29.59 L202.18 29.57 L202.68 29.55 L203.18 29.53 L203.68 29.52 L204.18 29.50 L204.68 29.48 L205.18 29.46 L205.68 29.45 L206.18 29.43 L206.68 29.42 L207.18 29.40 L207.68 29.39 L208.18 29.37 L208.68 29.36 L209.18 29.34 L209.68 29.33 L210.18 29.32 L210.68 29.30 L211.17 29.29 L211.67 29.28 L212.17 29.26 L212.67 29.25 L213.17 29.24 L213.67 29.23 L214.17 29.22 L214.67 29.20 L215.17 29.19 L215.67 29.18 L216.17 29.17 L216.67 29.16 L217.17 29.15 L217.67 29.14 L218.17 29.13 L218.67 29.12 L219.17 29.11 L219.67 29.09 L220.17 29.08 L220.66 29.07 L221.16 29.07 L221.66 29.06 L222.16 29.05 L222.66 29.04 L223.16 29.03 L223.66 29.02 L224.16 29.01 L224.66 29.00 L225.16 28.99 L225.66 28.98 L226.16 28.98 L226.66 28.97 L227.16 28.96 L227.66 28.95 L228.16 28.94 L228.66 28.94 L229.16 28.93 L229.66 28.92 L230.16 28.91 L230.66 28.91 L231.16 28.90 L231.66 28.89 L232.16 28.89 L232.66 28.88 L233.15 28.87 L233.65 28.87 L234.15 28.86 L234.65 28.85 L235.15 28.85 L235.65 28.84 L236.15 28.83 L236.65 28.83 L237.15 28.82 L237.65 28.82 L238.15 28.81 L238.65 28.80 L239.15 28.80 L239.65 28.79 L240.15 28.79 L240.65 28.78 L241.15 28.78 L241.65 28.77 L242.15 28.76 L242.65 28.76 L243.15 28.75 L243.65 28.75 L244.15 28.74 L244.65 28.74 L245.15 28.74 L245.64 28.73 L246.14 28.73 L246.64 28.72 L247.14 28.72 L247.64 28.72 L248.14 28.71 L248.64 28.71 L249.14 28.71 L249.64 28.70 L250.14 28.70 L250.64 28.70 L251.14 28.69 L251.64 28.69 L252.14 28.69 L252.64 28.68 L253.14 28.68 L253.64 28.68 L254.14 28.68 L254.64 28.67 L255.14 28.67 L255.64 28.67 L256.14 28.67 L256.64 28.66 L257.14 28.66 L257.64 28.66 L258.14 28.65 L258.63 28.65 L259.13 28.65 L259.63 28.65 L260.13 28.64 L260.63 28.64 L261.13 28.64 L261.63 28.64 L262.13 28.63 L262.63 28.63 L263.13 28.63 L263.63 28.63 L264.13 28.62 L264.63 28.62 L265.13 28.62 L265.63 28.62 L266.13 28.61 L266.63 28.61 L267.13 28.61 L267.63 28.61 L268.13 28.60 L268.63 28.60 L269.13 28.60 L269.63 28.60 L270.13 28.59 L270.63 28.59 L271.13 28.59 L271.63 28.59 L272.12 28.58 L272.62 28.58 L273.12 28.58 L273.62 28.58 L274.12 28.58 L274.62 28.57 L275.12 28.57 L275.62 28.57 L276.12 28.57 L276.62 28.57 L277.12 28.56 L277.62 28.56 L278.12 28.56 L278.62 28.56 L279.12 28.56 L279.62 28.55 L280.12 28.55 L280.62 28.55 L281.12 28.55 L281.62 28.55 L282.12 28.55 L282.62 28.54 L283.12 28.54 L283.62 28.54 L284.12 28.54 L284.62 28.54 L285.12 28.54 L285.61 28.53 L286.11 28.53 L286.61 28.53 L287.11 28.53 L287.61 28.53 L288.11 28.53 L288.61 28.53 L289.11 28.52 L289.61 28.52 L290.11 28.52 L290.61 28.52 L291.11 28.52 L291.61 28.52 L292.11 28.52 L292.61 28.52 L293.11 28.51 L293.61 28.51 L294.11 28.51 L294.61 28.51 L295.11 28.51 L295.61 28.51 L296.11 28.51 L296.61 28.51 L297.11 28.51 L297.61 28.51 L298.11 28.51 L298.61 28.51 L299.11 28.50 L299.60 28.50 L300.10 28.50 L300.60 28.50 L301.10 28.50 L301.60 28.50 L302.10 28.50 L302.60 28.50 L303.10 28.50 L303.60 28.50 L304.10 28.50 L304.60 28.50 L305.10 28.50 L305.60 28.50 L306.10 28.50 L306.60 28.50" stroke="#996633"/>
<path d="M73.50 232.90 L74.00 232.89 L74.50 232.88 L75.00 232.86 L75.50 232.83 L76.00 232.80 L76.49 232.75 L76.99 232.66 L77.49 232.56 L77.99 232.43 L78.49 232.30 L78.99 232.16 L79.49 232.00 L79.99 231.81 L80.49 231.61 L80.99 231.39 L81.49 231.17 L81.99 230.92 L82.48 230.67 L82.98 230.42 L83.48 230.15 L83.98 229.89 L84.48 229.62 L84.98 229.36 L85.48 229.08 L85.98 228.79 L86.48 228.49 L86.98 228.17 L87.48 227.85 L87.98 227.52 L88.47 227.19 L88.97 226.86 L89.47 226.52 L89.97 226.19 L90.47 225.86 L90.97 225.54 L91.47 225.23 L91.97 224.92 L92.47 224.61 L92.97 224.29 L93.47 223.98 L93.96 223.66 L94.46 223.35 L94.96 223.04 L95.46 222.74 L95.96 222.44 L96.46 222.15 L96.96 221.86 L97.46 221.58 L97.96 221.30 L98.46 221.03 L98.96 220.76 L99.46 220.50 L99.95 220.23 L100.45 219.97 L100.95 219.72 L101.45 219.47 L101.95 219.23 L102.45 218.99 L102.95 218.76 L103.45 218.54 L103.95 218.32 L104.45 218.11 L104.95 217.89 L105.45 217.68 L105.94 217.48 L106.44 217.30 L106.94 217.14 L107.44 217.01 L107.94 216.91 L108.44 216.81 L108.94 216.73 L109.44 216.70 L109.94 216.71 L110.44 216.74 L110.94 216.78 L111.43 216.83 L111.93 216.89 L112.43 216.96 L112.93 217.06 L113.43 217.19 L113.93 217.32 L114.43 217.45 L114.93 217.59 L115.43 217.73 L115.93 217.88 L116.43 218.03 L116.93 218.19 L117.42 218.35 L117.92 218.52 L118.42 218.69 L118.92 218.86 L119.42 219.05 L119.92 219.23 L120.42 219.42 L120.92 219.61 L121.42 219.80 L121.92 220.01 L122.42 220.23 L122.92 220.45 L123.41 220.68 L123.91 220.91 L124.41 221.15 L124.91 221.38 L125.41 221.62 L125.91 221.86 L126.41 222.09 L126.91 222.32 L127.41 222.55 L127.91 222.77 L128.41 222.98 L128.90 223.20 L129.40 223.42 L129.90 223.65 L130.40 223.89 L130.90 224.14 L131.40 224.40 L131.90 224.66 L132.40 224.93 L132.90 225.19 L133.40 225.45 L133.90 225.70 L134.40 225.95 L134.89 226.20 L135.39 226.45 L135.89 226.70 L136.39 226.95 L136.89 227.20 L137.39 227.44 L137.89 227.69 L138.39 227.93 L138.89 228.17 L139.39 228.41 L139.89 228.65 L140.39 228.89 L140.88 229.12 L141.38 229.36 L141.88 229.60 L142.38 229.84 L142.88 230.08 L143.38 230.31 L143.88 230.55 L144.38 230.78 L144.88 231.01 L145.38 231.24 L145.88 231.47 L146.37 231.69 L146.87 231.90 L147.37 232.12 L147.87 232.33 L148.37 232.53 L148.87 232.73 L149.37 232.92 L149.87 233.11 L150.37 233.30 L150.87 233.48 L151.37 233.66 L151.87 233.84 L152.36 234.02 L152.86 234.19 L153.36 234.35 L153.86 234.51 L154.36 234.67 L154.86 234.83 L155.36 234.98 L155.86 235.13 L156.36 235.27 L156.86 235.42 L157.36 235.56 L157.86 235.70 L158.35 235.83 L158.85 235.96 L159.35 236.09 L159.85 236.22 L160.35 236.34 L160.85 236.45 L161.35 236.57 L161.85 236.68 L162.35 236.78 L162.85 236.89 L163.35 236.99 L163.84 237.08 L164.34 237.18 L164.84 237.27 L165.34 237.36 L165.84 237.45 L166.34 237.54 L166.84 237.63 L167.34 237.71 L167.84 237.79 L168.34 237.87 L168.84 237.95 L169.34 238.03 L169.83 238.10 L170.33 238.18 L170.83 238.25 L171.33 238.32 L171.83 238.39 L172.33 238.46 L172.83 238.53 L173.33 238.59 L173.83 238.65 L174.33 238.70 L174.83 238.76 L175.33 238.81 L175.82 238.86 L176.32 238.91 L176.82 238.96 L177.32 239.01 L177.82 239.05 L178.32 239.10 L178.82 239.14 L179.32 239.19 L179.82 239.23 L180.32 239.27 L180.82 239.31 L181.31 239.35 L181.81 239.39 L182.31 239.43 L182.81 239.47 L183.31 239.51 L183.81 239.54 L184.31 239.58 L184.81 239.62 L185.31 239.65 L185.81 239.69 L186.31 239.72 L186.81 239.75 L187.30 239.79 L187.80 239.82 L188.30 239.85 L188.80 239.89 L189.30 239.92 L189.80 239.95 L190.30 239.98 L190.80 240.01 L191.30 240.04 L191.80 240.07 L192.30 240.10 L192.80 240.13 L193.29 240.15 L193.79 240.18 L194.29 240.21 L194.79 240.24 L195.29 240.26 L195.79 240.29 L196.29 240.32 L196.79 240.34 L197.29 240.37 L197.79 240.39 L198.29 240.42 L198.79 240.44 L199.28 240.47 L199.78 240.49 L200.28 240.51 L200.78 240.54 L201.28 240.56 L201.78 240.58 L202.28 240.61 L202.78 240.63 L203.28 240.65 L203.78 240.68 L204.28 240.70 L204.77 240.72 L205.27 240.74 L205.77 240.76 L206.27 240.79 L206.77 240.81 L207.27 240.83 L207.77 240.85 L208.27 240.87 L208.77 240.89 L209.27 240.91 L209.77 240.93 L210.27 240.95 L210.76 240.97 L211.26 240.99 L211.76 241.01 L212.26 241.03 L212.76 241.05 L213.26 241.07 L213.76 241.09 L214.26 241.11 L214.76 241.12 L215.26 241.14 L215.76 241.16 L216.26 241.18 L216.75 241.19 L217.25 241.21 L217.75 241.23 L218.25 241.24 L218.75 241.26 L219.25 241.28 L219.75 241.29 L220.25 241.31 L220.75 241.32 L221.25 241.34 L221.75 241.35 L222.24 241.37 L222.74 241.38 L223.24 241.40 L223.74 241.41 L224.24 241.43 L224.74 241.44 L225.24 241.46 L225.74 241.47 L226.24 241.49 L226.74 241.50 L227.24 241.52 L227.74 241.53 L228.23 241.54 L228.73 241.56 L229.23 241.57 L229.73 241.58 L230.23 241.60 L230.73 241.61 L231.23 241.62 L231.73 241.63 L232.23 241.65 L232.73 241.66 L233.23 241.67 L233.73 241.68 L234.22 241.69 L234.72 241.70 L235.22 241.71 L235.72 241.73 L236.22 241.74 L236.72 241.74 L237.22 241.75 L237.72 241.76 L238.22 241.77 L238.72 241.78 L239.22 241.79 L239.71 241.80 L240.21 241.80 L240.71 241.81 L241.21 241.82 L241.71 241.82 L242.21 241.83 L242.71 241.84 L243.21 241.85 L243.71 241.85 L244.21 241.86 L244.71 241.87 L245.21 241.87 L245.70 241.88 L246.20 241.89 L246.70 241.90 L247.20 241.90 L247.70 241.91 L248.20 241.92 L248.70 241.92 L249.20 241.93 L249.70 241.94 L250.20 241.94 L250.70 241.95 L251.20 241.96 L251.69 241.96 L252.19 241.97 L252.69 241.98 L253.19 241.98 L253.69 241.99 L254.19 242.00 L254.69 242.00 L255.19 242.01 L255.69 242.02 L256.19 242.02 L256.69 242.03 L257.18 242.04 L257.68 242.04 L258.18 242.05 L258.68 242.06 L259.18 242.06 L259.68 242.07 L260.18 242.07 L260.68 242.08 L261.18 242.09 L261.68 242.09 L262.18 242.10 L262.68 242.10 L263.17 242.11 L263.67 242.12 L264.17 242.12 L264.67 242.13 L265.17 242.13 L265.67 242.14 L266.17 242.14 L266.67 242.15 L267.17 242.16 L267.67 242.16 L268.17 242.17 L268.67 242.17 L269.16 242.18 L269.66 242.18 L270.16 242.19 L270.66 242.19 L271.16 242.20 L271.66 242.20 L272.16 242.21 L272.66 242.21 L273.16 242.22 L273.66 242.22 L274.16 242.23 L274.65 242.23 L275.15 242.24 L275.65 242.24 L276.15 242.25 L276.65 242.25 L277.15 242.26 L277.65 242.26 L278.15 242.27 L278.65 242.27 L279.15 242.27 L279.65 242.28 L280.15 242.28 L280.64 242.29 L281.14 242.29 L281.64 242.29 L282.14 242.30 L282.64 242.30 L283.14 242.31 L283.64 242.31 L284.14 242.31 L284.64 242.32 L285.14 242.32 L285.64 242.32 L286.14 242.33 L286.63 242.33 L287.13 242.33 L287.63 242.34 L288.13 242.34 L288.63 242.34 L289.13 242.35 L289.63 242.35 L290.13 242.35 L290.63 242.36 L291.13 242.36 L291.63 242.36 L292.12 242.36 L292.62 242.37 L293.12 242.37 L293.62 242.37 L294.12 242.37 L294.62 242.37 L295.12 242.38 L295.62 242.38 L296.12 242.38 L296.62 242.38 L297.12 242.38 L297.62 242.39 L298.11 242.39 L298.61 242.39 L299.11 242.39 L299.61 242.39 L300.11 242.39 L300.61 242.39 L301.11 242.39 L301.61 242.40 L302.11 242.40 L302.61 242.40 L303.11 242.40 L303.61 242.40 L304.10 242.40 L304.60 242.40 L305.10 242.40 L305.60 242.40 L306.10 242.40 L306.60 242.40" stroke="#f0f"/>
<path d="M73.50 309.40 L74.00 309.39 L74.50 309.38 L75.00 309.36 L75.50 309.33 L76.00 309.30 L76.49 309.25 L76.99 309.16 L77.49 309.05 L77.99 308.93 L78.49 308.80 L78.99 308.66 L79.49 308.51 L79.99 308.34 L80.49 308.15 L80.99 307.96 L81.49 307.75 L81.99 307.53 L82.48 307.30 L82.98 307.06 L83.48 306.82 L83.98 306.57 L84.48 306.31 L84.98 306.06 L85.48 305.79 L85.98 305.50 L86.48 305.19 L86.98 304.87 L87.48 304.54 L87.98 304.19 L88.47 303.85 L88.97 303.50 L89.47 303.15 L89.97 302.81 L90.47 302.47 L90.97 302.15 L91.47 301.83 L91.97 301.51 L92.47 301.20 L92.97 300.88 L93.47 300.56 L93.96 300.24 L94.46 299.93 L94.96 299.62 L95.46 299.32 L95.96 299.02 L96.46 298.73 L96.96 298.45 L97.46 298.18 L97.96 297.91 L98.46 297.65 L98.96 297.39 L99.46 297.14 L99.95 296.89 L100.45 296.65 L100.95 296.41 L101.45 296.17 L101.95 295.95 L102.45 295.73 L102.95 295.52 L103.45 295.31 L103.95 295.12 L104.45 294.93 L104.95 294.73 L105.45 294.53 L105.94 294.35 L106.44 294.17 L106.94 294.02 L107.44 293.90 L107.94 293.81 L108.44 293.74 L108.94 293.68 L109.44 293.64 L109.94 293.61 L110.44 293.60 L110.94 293.62 L111.43 293.67 L111.93 293.74 L112.43 293.81 L112.93 293.89 L113.43 293.98 L113.93 294.10 L114.43 294.24 L114.93 294.39 L115.43 294.55 L115.93 294.70 L116.43 294.87 L116.93 295.05 L117.42 295.23 L117.92 295.42 L118.42 295.61 L118.92 295.81 L119.42 296.01 L119.92 296.21 L120.42 296.41 L120.92 296.61 L121.42 296.80 L121.92 297.00 L122.42 297.20 L122.92 297.40 L123.41 297.59 L123.91 297.80 L124.41 298.00 L124.91 298.20 L125.41 298.41 L125.91 298.61 L126.41 298.82 L126.91 299.03 L127.41 299.25 L127.91 299.46 L128.41 299.68 L128.90 299.90 L129.40 300.12 L129.90 300.35 L130.40 300.59 L130.90 300.85 L131.40 301.10 L131.90 301.37 L132.40 301.63 L132.90 301.89 L133.40 302.15 L133.90 302.40 L134.40 302.64 L134.89 302.88 L135.39 303.12 L135.89 303.35 L136.39 303.58 L136.89 303.81 L137.39 304.04 L137.89 304.27 L138.39 304.50 L138.89 304.72 L139.39 304.95 L139.89 305.17 L140.39 305.39 L140.88 305.62 L141.38 305.84 L141.88 306.07 L142.38 306.29 L142.88 306.52 L143.38 306.75 L143.88 306.99 L144.38 307.22 L144.88 307.46 L145.38 307.69 L145.88 307.93 L146.37 308.16 L146.87 308.38 L147.37 308.60 L147.87 308.82 L148.37 309.03 L148.87 309.23 L149.37 309.42 L149.87 309.61 L150.37 309.80 L150.87 309.99 L151.37 310.17 L151.87 310.34 L152.36 310.52 L152.86 310.69 L153.36 310.85 L153.86 311.01 L154.36 311.17 L154.86 311.33 L155.36 311.48 L155.86 311.63 L156.36 311.77 L156.86 311.92 L157.36 312.06 L157.86 312.20 L158.35 312.33 L158.85 312.46 L159.35 312.59 L159.85 312.72 L160.35 312.84 L160.85 312.95 L161.35 313.07 L161.85 313.18 L162.35 313.28 L162.85 313.39 L163.35 313.49 L163.84 313.58 L164.34 313.68 L164.84 313.77 L165.34 313.86 L165.84 313.95 L166.34 314.04 L166.84 314.13 L167.34 314.21 L167.84 314.29 L168.34 314.37 L168.84 314.45 L169.34 314.53 L169.83 314.60 L170.33 314.68 L170.83 314.75 L171.33 314.82 L171.83 314.89 L172.33 314.96 L172.83 315.03 L173.33 315.09 L173.83 315.15 L174.33 315.20 L174.83 315.26 L175.33 315.31 L175.82 315.36 L176.32 315.41 L176.82 315.46 L177.32 315.51 L177.82 315.55 L178.32 315.60 L178.82 315.64 L179.32 315.69 L179.82 315.73 L180.32 315.77 L180.82 315.81 L181.31 315.85 L181.81 315.89 L182.31 315.93 L182.81 315.97 L183.31 316.01 L183.81 316.04 L184.31 316.08 L184.81 316.12 L185.31 316.15 L185.81 316.19 L186.31 316.22 L186.81 316.25 L187.30 316.29 L187.80 316.32 L188.30 316.35 L188.80 316.39 L189.30 316.42 L189.80 316.45 L190.30 316.48 L190.80 316.51 L191.30 316.54 L191.80 316.57 L192.30 316.60 L192.80 316.63 L193.29 316.65 L193.79 316.68 L194.29 316.71 L194.79 316.74 L195.29 316.76 L195.79 316.79 L196.29 316.82 L196.79 316.84 L197.29 316.87 L197.79 316.89 L198.29 316.92 L198.79 316.94 L199.28 316.97 L199.78 316.99 L200.28 317.01 L200.78 317.04 L201.28 317.06 L201.78 317.08 L202.28 317.11 L202.78 317.13 L203.28 317.15 L203.78 317.18 L204.28 317.20 L204.77 317.22 L205.27 317.24 L205.77 317.26 L206.27 317.29 L206.77 317.31 L207.27 317.33 L207.77 317.35 L208.27 317.37 L208.77 317.39 L209.27 317.41 L209.77 317.43 L210.27 317.45 L210.76 317.47 L211.26 317.49 L211.76 317.51 L212.26 317.53 L212.76 317.55 L213.26 317.57 L213.76 317.59 L214.26 317.61 L214.76 317.62 L215.26 317.64 L215.76 317.66 L216.26 317.68 L216.75 317.69 L217.25 317.71 L217.75 317.73 L218.25 317.74 L218.75 317.76 L219.25 317.78 L219.75 317.79 L220.25 317.81 L220.75 317.82 L221.25 317.84 L221.75 317.85 L222.24 317.87 L222.74 317.88 L223.24 317.90 L223.74 317.91 L224.24 317.93 L224.74 317.94 L225.24 317.96 L225.74 317.97 L226.24 317.99 L226.74 318.00 L227.24 318.02 L227.74 318.03 L228.23 318.04 L228.73 318.06 L229.23 318.07 L229.73 318.08 L230.23 318.10 L230.73 318.11 L231.23 318.12 L231.73 318.13 L232.23 318.15 L232.73 318.16 L233.23 318.17 L233.73 318.18 L234.22 318.19 L234.72 318.20 L235.22 318.21 L235.72 318.23 L236.22 318.24 L236.72 318.24 L237.22 318.25 L237.72 318.26 L238.22 318.27 L238.72 318.28 L239.22 318.29 L239.71 318.30 L240.21 318.30 L240.71 318.31 L241.21 318.32 L241.71 318.32 L242.21 318.33 L242.71 318.34 L243.21 318.35 L243.71 318.35 L244.21 318.36 L244.71 318.37 L245.21 318.37 L245.70 318.38 L246.20 318.39 L246.70 318.40 L247.20 318.40 L247.70 318.41 L248.20 318.42 L248.70 318.42 L249.20 318.43 L249.70 318.44 L250.20 318.44 L250.70 318.45 L251.20 318.46 L251.69 318.46 L252.19 318.47 L252.69 318.48 L253.19 318.48 L253.69 318.49 L254.19 318.50 L254.69 318.50 L255.19 318.51 L255.69 318.52 L256.19 318.52 L256.69 318.53 L257.18 318.54 L257.68 318.54 L258.18 318.55 L258.68 318.56 L259.18 318.56 L259.68 318.57 L260.18 318.57 L260.68 318.58 L261.18 318.59 L261.68 318.59 L262.18 318.60 L262.68 318.60 L263.17 318.61 L263.67 318.62 L264.17 318.62 L264.67 318.63 L265.17 318.63 L265.67 318.64 L266.17 318.64 L266.67 318.65 L267.17 318.66 L267.67 318.66 L268.17 318.67 L268.67 318.67 L269.16 318.68 L269.66 318.68 L270.16 318.69 L270.66 318.69 L271.16 318.70 L271.66 318.70 L272.16 318.71 L272.66 318.71 L273.16 318.72 L273.66 318.72 L274.16 318.73 L274.65 318.73 L275.15 318.74 L275.65 318.74 L276.15 318.75 L276.65 318.75 L277.15 318.76 L277.65 318.76 L278.15 318.77 L278.65 318.77 L279.15 318.77 L279.65 318.78 L280.15 318.78 L280.64 318.79 L281.14 318.79 L281.64 318.79 L282.14 318.80 L282.64 318.80 L283.14 318.81 L283.64 318.81 L284.14 318.81 L284.64 318.82 L285.14 318.82 L285.64 318.82 L286.14 318.83 L286.63 318.83 L287.13 318.83 L287.63 318.84 L288.13 318.84 L288.63 318.84 L289.13 318.85 L289.63 318.85 L290.13 318.85 L290.63 318.86 L291.13 318.86 L291.63 318.86 L292.12 318.86 L292.62 318.87 L293.12 318.87 L293.62 318.87 L294.12 318.87 L294.62 318.87 L295.12 318.88 L295.62 318.88 L296.12 318.88 L296.62 318.88 L297.12 318.88 L297.62 318.89 L298.11 318.89 L298.61 318.89 L299.11 318.89 L299.61 318.89 L300.11 318.89 L300.61 318.89 L301.11 318.89 L301.61 318.90 L302.11 318.90 L302.61 318.90 L303.11 318.90 L303.61 318.90 L304.10 318.90 L304.60 318.90 L305.10 318.90 L305.60 318.90 L306.10 318.90 L306.60 318.90" stroke="#00f"/>
</g>
<g fill="none" stroke-width="0.6" stroke-dasharray="4.5 4.17" clip-path="url(#c)">
<path d="M306.40 60.45 L305.90 60.45 L305.40 60.45 L304.90 60.45 L304.40 60.45 L303.90 60.45 L303.40 60.45 L302.90 60.45 L302.40 60.45 L301.90 60.45 L301.40 60.45 L300.90 60.45 L300.40 60.45 L299.90 60.45 L299.40 60.45 L298.90 60.45 L298.40 60.45 L297.90 60.45 L297.40 60.45 L296.90 60.45 L296.40 60.45 L295.90 60.45 L295.40 60.45 L294.90 60.45 L294.40 60.45 L293.90 60.45 L293.40 60.45 L292.90 60.45 L292.40 60.45 L291.90 60.45 L291.40 60.45 L290.90 60.45 L290.40 60.45 L289.90 60.45 L289.40 60.45 L288.90 60.45 L288.40 60.45 L287.90 60.45 L287.40 60.45 L286.90 60.45 L286.40 60.45 L285.90 60.45 L285.40 60.45 L284.90 60.45 L284.40 60.45 L283.90 60.45 L283.40 60.45 L282.90 60.45 L282.40 60.45 L281.90 60.45 L281.41 60.45 L280.91 60.45 L280.41 60.45 L279.91 60.45 L279.41 60.45 L278.91 60.45 L278.41 60.45 L277.91 60.45 L277.41 60.45 L276.91 60.45 L276.41 60.45 L275.91 60.45 L275.41 60.45 L274.91 60.45 L274.41 60.45 L273.91 60.45 L273.41 60.45 L272.91 60.45 L272.41 60.45 L271.91 60.45 L271.41 60.45 L270.91 60.45 L270.41 60.45 L269.91 60.45 L269.41 60.45 L268.91 60.45 L268.41 60.45 L267.91 60.45 L267.41 60.45 L266.91 60.45 L266.41 60.45 L265.91 60.45 L265.41 60.45 L264.91 60.45 L264.41 60.45 L263.91 60.45 L263.41 60.45 L262.91 60.45 L262.41 60.45 L261.91 60.45 L261.41 60.45 L260.91 60.45 L260.41 60.45 L259.91 60.45 L259.41 60.45 L258.91 60.45 L258.41 60.45 L257.91 60.45 L257.41 60.45 L256.91 60.45 L256.41 60.45 L255.91 60.45 L255.41 60.45 L254.91 60.45 L254.41 60.45 L253.91 60.45 L253.41 60.45 L252.91 60.45 L252.41 60.45 L251.91 60.45 L251.41 60.45 L250.91 60.45 L250.41 60.45 L249.91 60.45 L249.41 60.45 L248.91 60.45 L248.41 60.45 L247.91 60.45 L247.41 60.45 L246.91 60.45 L246.41 60.45 L245.91 60.45 L245.41 60.45 L244.91 60.45 L244.41 60.45 L243.91 60.45 L243.41 60.45 L242.91 60.45 L242.41 60.45 L241.91 60.45 L241.41 60.45 L240.91 60.45 L240.41 60.45 L239.91 60.45 L239.41 60.45 L238.91 60.45 L238.41 60.45 L237.91 60.45 L237.41 60.45 L236.92 60.44 L236.42 60.44 L235.92 60.44 L235.42 60.44 L234.92 60.44 L234.42 60.43 L233.92 60.43 L233.42 60.43 L232.92 60.42 L232.42 60.42 L231.92 60.42 L231.42 60.41 L230.92 60.41 L230.42 60.41 L229.92 60.40 L229.42 60.40 L228.92 60.39 L228.42 60.39 L227.92 60.38 L227.42 60.38 L226.92 60.37 L226.42 60.37 L225.92 60.36 L225.42 60.36 L224.92 60.35 L224.42 60.35 L223.92 60.34 L223.42 60.34 L222.92 60.33 L222.42 60.33 L221.92 60.32 L221.42 60.32 L220.92 60.31 L220.42 60.30 L219.92 60.30 L219.42 60.29 L218.92 60.29 L218.42 60.28 L217.92 60.27 L217.42 60.27 L216.92 60.26 L216.42 60.25 L215.92 60.25 L215.42 60.24 L214.92 60.23 L214.42 60.22 L213.92 60.21 L213.42 60.20 L212.92 60.19 L212.42 60.18 L211.92 60.17 L211.42 60.16 L210.92 60.15 L210.42 60.14 L209.92 60.13 L209.42 60.12 L208.92 60.11 L208.42 60.10 L207.92 60.09 L207.42 60.08 L206.92 60.07 L206.42 60.06 L205.92 60.05 L205.42 60.03 L204.92 60.02 L204.43 60.01 L203.93 60.00 L203.43 59.99 L202.93 59.97 L202.43 59.96 L201.93 59.95 L201.43 59.94 L200.93 59.92 L200.43 59.91 L199.93 59.90 L199.43 59.89 L198.93 59.87 L198.43 59.86 L197.93 59.85 L197.43 59.83 L196.93 59.82 L196.43 59.80 L195.93 59.79 L195.43 59.77 L194.93 59.76 L194.43 59.74 L193.93 59.73 L193.43 59.71 L192.93 59.69 L192.43 59.68 L191.93 59.66 L191.43 59.64 L190.93 59.62 L190.43 59.61 L189.93 59.59 L189.43 59.57 L188.94 59.55 L188.44 59.53 L187.94 59.51 L187.44 59.49 L186.94 59.47 L186.44 59.45 L185.94 59.42 L185.44 59.40 L184.94 59.38 L184.44 59.35 L183.94 59.33 L183.44 59.31 L182.94 59.28 L182.44 59.25 L181.94 59.23 L181.45 59.20 L180.95 59.17 L180.45 59.15 L179.95 59.12 L179.45 59.09 L178.95 59.06 L178.45 59.03 L177.95 59.00 L177.45 58.97 L176.95 58.94 L176.45 58.91 L175.96 58.88 L175.46 58.84 L174.96 58.81 L174.46 58.78 L173.96 58.75 L173.46 58.71 L172.96 58.68 L172.46 58.65 L171.97 58.61 L171.47 58.58 L170.97 58.54 L170.47 58.51 L169.97 58.47 L169.47 58.43 L168.97 58.40 L168.48 58.36 L167.98 58.32 L167.48 58.28 L166.98 58.24 L166.48 58.20 L165.98 58.16 L165.49 58.12 L164.99 58.07 L164.49 58.03 L163.99 57.99 L163.49 57.94 L162.99 57.90 L162.50 57.85 L162.00 57.81 L161.50 57.76 L161.00 57.72 L160.50 57.67 L160.01 57.62 L159.51 57.57 L159.01 57.52 L158.51 57.47 L158.02 57.42 L157.52 57.37 L157.02 57.32 L156.53 57.27 L156.03 57.21 L155.53 57.16 L155.04 57.11 L154.54 57.05 L154.04 56.99 L153.55 56.93 L153.05 56.87 L152.55 56.81 L152.06 56.75 L151.56 56.68 L151.07 56.62 L150.57 56.55 L150.08 56.49 L149.58 56.42 L149.08 56.35 L148.59 56.28 L148.09 56.21 L147.60 56.14 L147.10 56.06 L146.61 55.99 L146.12 55.92 L145.62 55.84 L145.13 55.76 L144.64 55.68 L144.14 55.60 L143.65 55.52 L143.16 55.43 L142.67 55.34 L142.17 55.26 L141.68 55.17 L141.19 55.08 L140.70 54.99 L140.21 54.90 L139.71 54.81 L139.22 54.72 L138.73 54.63 L138.24 54.54 L137.74 54.46 L137.25 54.37 L136.76 54.29 L136.27 54.21 L135.77 54.13 L135.28 54.05 L134.79 53.97 L134.29 53.89 L133.80 53.81 L133.30 53.73 L132.81 53.65 L132.32 53.57 L131.82 53.49 L131.33 53.41 L130.84 53.33 L130.34 53.25 L129.85 53.16 L129.36 53.08 L128.87 52.99 L128.37 52.91 L127.88 52.82 L127.39 52.73 L126.90 52.63 L126.41 52.54 L125.92 52.45 L125.43 52.35 L124.94 52.25 L124.45 52.16 L123.95 52.06 L123.46 51.97 L122.97 51.87 L122.48 51.78 L121.99 51.68 L121.50 51.59 L121.01 51.50 L120.52 51.41 L120.03 51.32 L119.53 51.24 L119.04 51.15 L118.55 51.07 L118.05 50.99 L117.56 50.92 L117.06 50.84 L116.57 50.76 L116.08 50.69 L115.58 50.61 L115.09 50.54 L114.59 50.46 L114.10 50.38 L113.61 50.30 L113.11 50.21 L112.62 50.13 L112.13 50.04 L111.64 49.95 L111.15 49.85 L110.66 49.74 L110.17 49.63 L109.69 49.52 L109.20 49.40" stroke="#000" stroke-opacity="0.95"/>
<path d="M302.90 35.40 L302.40 35.40 L301.90 35.40 L301.40 35.40 L300.90 35.40 L300.41 35.40 L299.91 35.40 L299.41 35.40 L298.91 35.40 L298.41 35.40 L297.91 35.40 L297.41 35.40 L296.92 35.40 L296.42 35.40 L295.92 35.40 L295.42 35.39 L294.92 35.39 L294.42 35.39 L293.92 35.39 L293.42 35.39 L292.93 35.39 L292.43 35.39 L291.93 35.39 L291.43 35.39 L290.93 35.39 L290.43 35.39 L289.93 35.38 L289.43 35.38 L288.94 35.38 L288.44 35.38 L287.94 35.38 L287.44 35.38 L286.94 35.38 L286.44 35.38 L285.94 35.37 L285.44 35.37 L284.95 35.37 L284.45 35.37 L283.95 35.37 L283.45 35.37 L282.95 35.36 L282.45 35.36 L281.95 35.36 L281.45 35.36 L280.96 35.36 L280.46 35.36 L279.96 35.35 L279.46 35.35 L278.96 35.35 L278.46 35.35 L277.96 35.35 L277.46 35.34 L276.97 35.34 L276.47 35.34 L275.97 35.34 L275.47 35.34 L274.97 35.33 L274.47 35.33 L273.97 35.33 L273.47 35.33 L272.98 35.32 L272.48 35.32 L271.98 35.32 L271.48 35.32 L270.98 35.32 L270.48 35.31 L269.98 35.31 L269.48 35.31 L268.99 35.31 L268.49 35.30 L267.99 35.30 L267.49 35.30 L266.99 35.30 L266.49 35.29 L265.99 35.29 L265.49 35.29 L265.00 35.29 L264.50 35.28 L264.00 35.28 L263.50 35.28 L263.00 35.28 L262.50 35.27 L262.00 35.27 L261.51 35.27 L261.01 35.26 L260.51 35.26 L260.01 35.26 L259.51 35.26 L259.01 35.25 L258.51 35.25 L258.01 35.25 L257.52 35.24 L257.02 35.24 L256.52 35.24 L256.02 35.24 L255.52 35.23 L255.02 35.23 L254.52 35.23 L254.02 35.22 L253.53 35.22 L253.03 35.22 L252.53 35.22 L252.03 35.21 L251.53 35.21 L251.03 35.21 L250.53 35.20 L250.03 35.20 L249.54 35.20 L249.04 35.19 L248.54 35.19 L248.04 35.19 L247.54 35.18 L247.04 35.18 L246.54 35.18 L246.04 35.17 L245.55 35.17 L245.05 35.16 L244.55 35.16 L244.05 35.16 L243.55 35.15 L243.05 35.15 L242.55 35.14 L242.06 35.14 L241.56 35.13 L241.06 35.13 L240.56 35.12 L240.06 35.12 L239.56 35.11 L239.06 35.11 L238.56 35.10 L238.07 35.10 L237.57 35.09 L237.07 35.09 L236.57 35.08 L236.07 35.07 L235.57 35.07 L235.07 35.06 L234.57 35.06 L234.08 35.05 L233.58 35.04 L233.08 35.04 L232.58 35.03 L232.08 35.02 L231.58 35.02 L231.08 35.01 L230.58 35.00 L230.09 35.00 L229.59 34.99 L229.09 34.98 L228.59 34.98 L228.09 34.97 L227.59 34.96 L227.09 34.95 L226.59 34.95 L226.10 34.94 L225.60 34.93 L225.10 34.92 L224.60 34.92 L224.10 34.91 L223.60 34.90 L223.10 34.89 L222.61 34.89 L222.11 34.88 L221.61 34.87 L221.11 34.86 L220.61 34.85 L220.11 34.84 L219.61 34.84 L219.11 34.83 L218.62 34.82 L218.12 34.81 L217.62 34.80 L217.12 34.79 L216.62 34.78 L216.12 34.78 L215.62 34.77 L215.13 34.76 L214.63 34.75 L214.13 34.74 L213.63 34.73 L213.13 34.72 L212.63 34.71 L212.13 34.70 L211.64 34.69 L211.14 34.68 L210.64 34.67 L210.14 34.66 L209.64 34.65 L209.14 34.64 L208.64 34.63 L208.15 34.62 L207.65 34.61 L207.15 34.60 L206.65 34.59 L206.15 34.57 L205.65 34.56 L205.15 34.55 L204.66 34.54 L204.16 34.53 L203.66 34.51 L203.16 34.50 L202.66 34.49 L202.16 34.47 L201.66 34.46 L201.17 34.44 L200.67 34.43 L200.17 34.42 L199.67 34.40 L199.17 34.39 L198.67 34.37 L198.17 34.36 L197.68 34.34 L197.18 34.33 L196.68 34.31 L196.18 34.30 L195.68 34.28 L195.18 34.26 L194.68 34.25 L194.19 34.23 L193.69 34.21 L193.19 34.20 L192.69 34.18 L192.19 34.16 L191.69 34.15 L191.19 34.13 L190.70 34.11 L190.20 34.09 L189.70 34.08 L189.20 34.06 L188.70 34.04 L188.20 34.02 L187.71 34.00 L187.21 33.98 L186.71 33.97 L186.21 33.95 L185.71 33.93 L185.21 33.91 L184.72 33.89 L184.22 33.87 L183.72 33.85 L183.22 33.83 L182.72 33.81 L182.22 33.79 L181.73 33.77 L181.23 33.75 L180.73 33.73 L180.23 33.71 L179.73 33.69 L179.23 33.67 L178.74 33.65 L178.24 33.62 L177.74 33.60 L177.24 33.58 L176.74 33.55 L176.25 33.53 L175.75 33.50 L175.25 33.48 L174.75 33.45 L174.25 33.43 L173.75 33.40 L173.26 33.37 L172.76 33.35 L172.26 33.32 L171.76 33.29 L171.26 33.26 L170.77 33.23 L170.27 33.20 L169.77 33.17 L169.27 33.14 L168.78 33.11 L168.28 33.08 L167.78 33.05 L167.28 33.02 L166.78 32.99 L166.29 32.96 L165.79 32.93 L165.29 32.90 L164.79 32.87 L164.30 32.84 L163.80 32.81 L163.30 32.77 L162.80 32.74 L162.30 32.71 L161.81 32.68 L161.31 32.65 L160.81 32.61 L160.31 32.58 L159.82 32.54 L159.32 32.51 L158.82 32.48 L158.32 32.44 L157.83 32.41 L157.33 32.37 L156.83 32.33 L156.33 32.30 L155.84 32.26 L155.34 32.22 L154.84 32.19 L154.34 32.15 L153.85 32.11 L153.35 32.07 L152.85 32.03 L152.36 31.99 L151.86 31.95 L151.36 31.91 L150.86 31.87 L150.37 31.83 L149.87 31.79 L149.37 31.75 L148.88 31.70 L148.38 31.66 L147.88 31.61 L147.39 31.57 L146.89 31.52 L146.39 31.47 L145.90 31.42 L145.40 31.37 L144.90 31.32 L144.41 31.27 L143.91 31.22 L143.42 31.18 L142.92 31.13 L142.42 31.08 L141.93 31.03 L141.43 30.98 L140.93 30.94 L140.44 30.89 L139.94 30.85 L139.44 30.80 L138.95 30.76 L138.45 30.71 L137.95 30.67 L137.46 30.62 L136.96 30.57 L136.46 30.53 L135.97 30.48 L135.47 30.44 L134.97 30.39 L134.48 30.34 L133.98 30.29 L133.48 30.24 L132.99 30.19 L132.49 30.14 L132.00 30.08 L131.50 30.03 L131.01 29.97 L130.51 29.91 L130.02 29.85 L129.52 29.79 L129.02 29.74 L128.53 29.68 L128.03 29.61 L127.54 29.55 L127.04 29.49 L126.55 29.43 L126.05 29.37 L125.56 29.31 L125.06 29.25 L124.57 29.20 L124.07 29.14 L123.58 29.08 L123.08 29.02 L122.59 28.96 L122.09 28.90 L121.60 28.84 L121.10 28.78 L120.61 28.72 L120.11 28.66 L119.62 28.60 L119.12 28.54 L118.63 28.48 L118.13 28.42 L117.64 28.37 L117.14 28.31 L116.64 28.26 L116.15 28.21 L115.65 28.15 L115.16 28.10 L114.66 28.05 L114.16 28.00 L113.67 27.95 L113.17 27.91 L112.67 27.86 L112.18 27.82 L111.68 27.77 L111.18 27.73 L110.69 27.69 L110.19 27.65 L109.69 27.61 L109.19 27.57 L108.70 27.54 L108.20 27.50" stroke="#f00" stroke-opacity="0.95"/>
<path d="M301.80 61.35 L301.30 61.35 L300.80 61.35 L300.30 61.35 L299.80 61.35 L299.30 61.35 L298.81 61.35 L298.31 61.35 L297.81 61.35 L297.31 61.35 L296.81 61.35 L296.31 61.35 L295.81 61.35 L295.31 61.35 L294.81 61.35 L294.31 61.35 L293.82 61.35 L293.32 61.35 L292.82 61.35 L292.32 61.35 L291.82 61.35 L291.32 61.35 L290.82 61.35 L290.32 61.35 L289.82 61.35 L289.32 61.35 L288.82 61.35 L288.33 61.35 L287.83 61.35 L287.33 61.35 L286.83 61.35 L286.33 61.35 L285.83 61.35 L285.33 61.35 L284.83 61.35 L284.33 61.35 L283.83 61.35 L283.33 61.35 L282.84 61.35 L282.34 61.35 L281.84 61.35 L281.34 61.35 L280.84 61.35 L280.34 61.36 L279.84 61.36 L279.34 61.36 L278.84 61.36 L278.34 61.36 L277.85 61.36 L277.35 61.36 L276.85 61.36 L276.35 61.36 L275.85 61.36 L275.35 61.36 L274.85 61.36 L274.35 61.36 L273.85 61.36 L273.35 61.36 L272.85 61.36 L272.36 61.36 L271.86 61.36 L271.36 61.36 L270.86 61.36 L270.36 61.36 L269.86 61.36 L269.36 61.36 L268.86 61.36 L268.36 61.36 L267.86 61.36 L267.37 61.36 L266.87 61.36 L266.37 61.36 L265.87 61.37 L265.37 61.37 L264.87 61.37 L264.37 61.37 L263.87 61.37 L263.37 61.37 L262.87 61.37 L262.37 61.37 L261.88 61.37 L261.38 61.37 L260.88 61.37 L260.38 61.37 L259.88 61.37 L259.38 61.37 L258.88 61.37 L258.38 61.37 L257.88 61.37 L257.38 61.37 L256.89 61.37 L256.39 61.38 L255.89 61.38 L255.39 61.38 L254.89 61.38 L254.39 61.38 L253.89 61.38 L253.39 61.38 L252.89 61.38 L252.39 61.38 L251.89 61.38 L251.40 61.38 L250.90 61.38 L250.40 61.38 L249.90 61.38 L249.40 61.38 L248.90 61.39 L248.40 61.39 L247.90 61.39 L247.40 61.39 L246.90 61.39 L246.41 61.39 L245.91 61.39 L245.41 61.39 L244.91 61.39 L244.41 61.39 L243.91 61.39 L243.41 61.39 L242.91 61.39 L242.41 61.40 L241.91 61.40 L241.41 61.40 L240.92 61.40 L240.42 61.40 L239.92 61.40 L239.42 61.40 L238.92 61.40 L238.42 61.40 L237.92 61.41 L237.42 61.41 L236.92 61.41 L236.42 61.41 L235.93 61.42 L235.43 61.42 L234.93 61.42 L234.43 61.43 L233.93 61.43 L233.43 61.44 L232.93 61.44 L232.43 61.45 L231.93 61.45 L231.43 61.46 L230.93 61.46 L230.44 61.47 L229.94 61.47 L229.44 61.48 L228.94 61.48 L228.44 61.49 L227.94 61.50 L227.44 61.50 L226.94 61.51 L226.44 61.52 L225.95 61.53 L225.45 61.54 L224.95 61.55 L224.45 61.56 L223.95 61.57 L223.45 61.58 L222.95 61.59 L222.45 61.61 L221.95 61.62 L221.45 61.64 L220.96 61.65 L220.46 61.67 L219.96 61.68 L219.46 61.70 L218.96 61.72 L218.46 61.74 L217.96 61.75 L217.46 61.77 L216.97 61.79 L216.47 61.81 L215.97 61.83 L215.47 61.85 L214.97 61.87 L214.47 61.89 L213.97 61.91 L213.47 61.93 L212.98 61.95 L212.48 61.97 L211.98 61.99 L211.48 62.01 L210.98 62.04 L210.48 62.06 L209.99 62.08 L209.49 62.11 L208.99 62.13 L208.49 62.16 L207.99 62.18 L207.49 62.21 L206.99 62.24 L206.50 62.27 L206.00 62.30 L205.50 62.33 L205.00 62.36 L204.50 62.39 L204.01 62.42 L203.51 62.45 L203.01 62.48 L202.51 62.52 L202.01 62.55 L201.51 62.58 L201.02 62.62 L200.52 62.65 L200.02 62.69 L199.52 62.73 L199.03 62.76 L198.53 62.80 L198.03 62.84 L197.53 62.87 L197.04 62.91 L196.54 62.95 L196.04 62.99 L195.54 63.03 L195.05 63.07 L194.55 63.11 L194.05 63.15 L193.55 63.19 L193.06 63.24 L192.56 63.28 L192.06 63.33 L191.57 63.38 L191.07 63.42 L190.57 63.47 L190.07 63.52 L189.58 63.57 L189.08 63.62 L188.59 63.68 L188.09 63.73 L187.59 63.78 L187.10 63.84 L186.60 63.89 L186.10 63.95 L185.61 64.01 L185.11 64.06 L184.62 64.12 L184.12 64.18 L183.63 64.24 L183.13 64.30 L182.64 64.37 L182.14 64.43 L181.65 64.50 L181.15 64.57 L180.66 64.64 L180.17 64.71 L179.67 64.78 L179.18 64.85 L178.68 64.92 L178.19 64.99 L177.70 65.07 L177.20 65.15 L176.71 65.22 L176.22 65.30 L175.72 65.38 L175.23 65.46 L174.74 65.54 L174.24 65.62 L173.75 65.70 L173.26 65.78 L172.77 65.87 L172.28 65.95 L171.79 66.04 L171.29 66.12 L170.80 66.22 L170.31 66.31 L169.82 66.40 L169.33 66.50 L168.84 66.60 L168.36 66.70 L167.87 66.81 L167.38 66.91 L166.89 67.02 L166.41 67.13 L165.92 67.24 L165.43 67.36 L164.95 67.47 L164.46 67.59 L163.98 67.72 L163.50 67.85 L163.02 67.98 L162.54 68.12 L162.06 68.26 L161.58 68.41 L161.11 68.56 L160.63 68.72 L160.16 68.87 L159.69 69.04 L159.22 69.20 L158.75 69.37 L158.28 69.54 L157.81 69.71 L157.34 69.89 L156.88 70.08 L156.42 70.26 L155.95 70.45 L155.49 70.64 L155.04 70.84 L154.58 71.04 L154.12 71.24 L153.67 71.45 L153.21 71.66 L152.76 71.87 L152.31 72.09 L151.87 72.31 L151.42 72.54 L150.98 72.77 L150.54 73.01 L150.11 73.25 L149.67 73.50 L149.24 73.75 L148.81 74.01 L148.38 74.27 L147.96 74.53 L147.54 74.79 L147.11 75.06 L146.70 75.33 L146.28 75.60 L145.86 75.88 L145.45 76.16 L145.04 76.45 L144.63 76.73 L144.22 77.02 L143.81 77.30 L143.41 77.59 L143.00 77.88 L142.60 78.18 L142.20 78.47 L141.79 78.77 L141.40 79.07 L141.00 79.37 L140.60 79.67 L140.20 79.97 L139.81 80.28 L139.41 80.58 L139.01 80.89 L138.62 81.19 L138.23 81.50 L137.84 81.81 L137.45 82.13 L137.06 82.44 L136.67 82.76 L136.29 83.07 L135.91 83.39 L135.53 83.72 L135.15 84.04 L134.77 84.37 L134.39 84.70 L134.02 85.03 L133.65 85.37 L133.29 85.71 L132.93 86.05 L132.57 86.40 L132.22 86.75 L131.87 87.11 L131.52 87.46 L131.17 87.82 L130.82 88.18 L130.47 88.53 L130.11 88.88 L129.76 89.23 L129.40 89.58 L129.04 89.93 L128.68 90.28 L128.32 90.62 L127.97 90.98 L127.62 91.33 L127.28 91.70 L126.94 92.06 L126.62 92.44 L126.29 92.82 L125.98 93.21 L125.67 93.60 L125.36 93.99 L125.05 94.38 L124.75 94.78 L124.44 95.18 L124.14 95.58 L123.84 95.98 L123.55 96.38 L123.26 96.78 L122.97 97.19 L122.68 97.59 L122.39 98.00 L122.10 98.41 L121.81 98.82 L121.53 99.23 L121.24 99.63 L120.94 100.04 L120.64 100.44 L120.32 100.83 L119.98 101.22 L119.64 101.61 L119.31 102.01 L118.99 102.40 L118.70 102.80 L118.43 103.21 L118.21 103.64 L118.04 104.07 L117.87 104.51 L117.71 104.96 L117.55 105.42 L117.39 105.88 L117.24 106.35 L117.10 106.83 L116.98 107.31 L116.86 107.80 L116.76 108.30 L116.67 108.81 L116.60 109.32 L116.54 109.84 L116.51 110.37 L116.50 110.90" stroke="#0f0" stroke-opacity="0.95"/>
<path d="M302.10 208.40 L301.60 208.40 L301.10 208.40 L300.60 208.40 L300.10 208.40 L299.60 208.40 L299.10 208.40 L298.60 208.40 L298.10 208.40 L297.60 208.40 L297.10 208.40 L296.60 208.40 L296.11 208.40 L295.61 208.40 L295.11 208.40 L294.61 208.40 L294.11 208.40 L293.61 208.40 L293.11 208.40 L292.61 208.40 L292.11 208.40 L291.61 208.40 L291.11 208.40 L290.61 208.40 L290.11 208.40 L289.61 208.41 L289.11 208.41 L288.61 208.41 L288.11 208.41 L287.61 208.41 L287.11 208.41 L286.61 208.41 L286.11 208.41 L285.61 208.41 L285.12 208.41 L284.62 208.41 L284.12 208.41 L283.62 208.41 L283.12 208.41 L282.62 208.41 L282.12 208.41 L281.62 208.41 L281.12 208.41 L280.62 208.41 L280.12 208.42 L279.62 208.42 L279.12 208.42 L278.62 208.42 L278.12 208.42 L277.62 208.42 L277.12 208.42 L276.62 208.42 L276.12 208.42 L275.62 208.42 L275.12 208.42 L274.62 208.42 L274.13 208.42 L273.63 208.43 L273.13 208.43 L272.63 208.43 L272.13 208.43 L271.63 208.43 L271.13 208.43 L270.63 208.43 L270.13 208.43 L269.63 208.43 L269.13 208.43 L268.63 208.43 L268.13 208.43 L267.63 208.44 L267.13 208.44 L266.63 208.44 L266.13 208.44 L265.63 208.44 L265.13 208.44 L264.63 208.44 L264.13 208.44 L263.63 208.44 L263.14 208.44 L262.64 208.45 L262.14 208.45 L261.64 208.45 L261.14 208.45 L260.64 208.45 L260.14 208.45 L259.64 208.45 L259.14 208.45 L258.64 208.45 L258.14 208.46 L257.64 208.46 L257.14 208.46 L256.64 208.46 L256.14 208.46 L255.64 208.46 L255.14 208.46 L254.64 208.46 L254.14 208.46 L253.64 208.47 L253.14 208.47 L252.64 208.47 L252.15 208.47 L251.65 208.47 L251.15 208.47 L250.65 208.47 L250.15 208.47 L249.65 208.48 L249.15 208.48 L248.65 208.48 L248.15 208.48 L247.65 208.48 L247.15 208.48 L246.65 208.48 L246.15 208.48 L245.65 208.49 L245.15 208.49 L244.65 208.49 L244.15 208.49 L243.65 208.49 L243.15 208.49 L242.65 208.49 L242.15 208.49 L241.66 208.50 L241.16 208.50 L240.66 208.50 L240.16 208.50 L239.66 208.50 L239.16 208.50 L238.66 208.50 L238.16 208.51 L237.66 208.51 L237.16 208.51 L236.66 208.51 L236.16 208.51 L235.66 208.51 L235.16 208.51 L234.66 208.52 L234.16 208.52 L233.66 208.52 L233.16 208.52 L232.66 208.52 L232.16 208.52 L231.66 208.53 L231.16 208.53 L230.66 208.53 L230.17 208.53 L229.67 208.53 L229.17 208.53 L228.67 208.54 L228.17 208.54 L227.67 208.54 L227.17 208.54 L226.67 208.54 L226.17 208.55 L225.67 208.55 L225.17 208.55 L224.67 208.55 L224.17 208.55 L223.67 208.56 L223.17 208.56 L222.67 208.56 L222.17 208.56 L221.67 208.57 L221.17 208.57 L220.67 208.57 L220.17 208.57 L219.67 208.58 L219.17 208.58 L218.67 208.58 L218.18 208.58 L217.68 208.59 L217.18 208.59 L216.68 208.59 L216.18 208.59 L215.68 208.60 L215.18 208.60 L214.68 208.60 L214.18 208.61 L213.68 208.61 L213.18 208.61 L212.68 208.61 L212.18 208.62 L211.68 208.62 L211.18 208.62 L210.68 208.63 L210.18 208.63 L209.68 208.63 L209.18 208.64 L208.68 208.64 L208.18 208.64 L207.68 208.65 L207.18 208.65 L206.68 208.65 L206.18 208.66 L205.69 208.66 L205.19 208.67 L204.69 208.67 L204.19 208.67 L203.69 208.68 L203.19 208.68 L202.69 208.69 L202.19 208.69 L201.69 208.69 L201.19 208.70 L200.69 208.70 L200.19 208.71 L199.69 208.71 L199.19 208.71 L198.69 208.72 L198.19 208.72 L197.69 208.73 L197.19 208.73 L196.69 208.74 L196.19 208.74 L195.69 208.75 L195.19 208.75 L194.70 208.76 L194.20 208.76 L193.70 208.77 L193.20 208.77 L192.70 208.78 L192.20 208.78 L191.70 208.79 L191.20 208.79 L190.70 208.80 L190.20 208.80 L189.70 208.81 L189.20 208.81 L188.70 208.82 L188.20 208.82 L187.70 208.83 L187.20 208.83 L186.70 208.84 L186.20 208.85 L185.70 208.85 L185.21 208.86 L184.71 208.86 L184.21 208.87 L183.71 208.88 L183.21 208.88 L182.71 208.89 L182.21 208.89 L181.71 208.90 L181.21 208.91 L180.71 208.91 L180.21 208.92 L179.71 208.93 L179.21 208.93 L178.71 208.94 L178.21 208.95 L177.71 208.95 L177.21 208.96 L176.72 208.97 L176.22 208.98 L175.72 208.98 L175.22 208.99 L174.72 209.00 L174.22 209.00 L173.72 209.01 L173.22 209.02 L172.72 209.03 L172.22 209.05 L171.72 209.06 L171.22 209.08 L170.72 209.09 L170.22 209.11 L169.72 209.13 L169.23 209.14 L168.73 209.16 L168.23 209.18 L167.73 209.20 L167.23 209.22 L166.73 209.24 L166.23 209.26 L165.73 209.29 L165.23 209.31 L164.73 209.33 L164.23 209.35 L163.73 209.38 L163.24 209.40 L162.74 209.42 L162.24 209.44 L161.74 209.46 L161.24 209.49 L160.74 209.51 L160.24 209.53 L159.74 209.55 L159.24 209.57 L158.74 209.59 L158.24 209.61 L157.75 209.63 L157.25 209.66 L156.75 209.68 L156.25 209.70 L155.75 209.72 L155.25 209.74 L154.75 209.77 L154.25 209.79 L153.75 209.81 L153.25 209.83 L152.75 209.86 L152.25 209.88 L151.75 209.91 L151.26 209.93 L150.76 209.96 L150.26 209.98 L149.76 210.01 L149.26 210.03 L148.76 210.06 L148.26 210.09 L147.76 210.12 L147.26 210.15 L146.77 210.18 L146.27 210.21 L145.77 210.24 L145.27 210.27 L144.77 210.30 L144.27 210.33 L143.78 210.37 L143.28 210.40 L142.78 210.44 L142.28 210.47 L141.79 210.51 L141.29 210.55 L140.79 210.60 L140.29 210.64 L139.79 210.69 L139.30 210.73 L138.80 210.78 L138.30 210.83 L137.80 210.88 L137.31 210.93 L136.81 210.99 L136.31 211.04 L135.82 211.10 L135.32 211.15 L134.82 211.21 L134.33 211.27 L133.83 211.33 L133.34 211.39 L132.84 211.46 L132.35 211.52 L131.85 211.59 L131.36 211.65 L130.86 211.72 L130.37 211.80 L129.88 211.87 L129.38 211.95 L128.89 212.03 L128.40 212.11 L127.91 212.20 L127.41 212.28 L126.92 212.37 L126.43 212.46 L125.94 212.55 L125.44 212.64 L124.95 212.73 L124.46 212.82 L123.97 212.92 L123.48 213.01 L122.99 213.11 L122.50 213.21 L122.01 213.30 L121.52 213.40 L121.03 213.50 L120.54 213.59 L120.05 213.69 L119.56 213.79 L119.07 213.89 L118.58 213.98 L118.09 214.08 L117.59 214.18 L117.10 214.28 L116.61 214.38 L116.13 214.49 L115.64 214.61 L115.16 214.73 L114.68 214.86 L114.20 215.01 L113.73 215.17 L113.26 215.34 L112.79 215.51 L112.32 215.69 L111.85 215.85 L111.38 216.02 L110.91 216.19 L110.44 216.36 L109.97 216.53 L109.50 216.70" stroke="#f0f" stroke-opacity="0.95"/>
<path d="M302.10 285.40 L301.60 285.40 L301.10 285.40 L300.60 285.39 L300.10 285.39 L299.60 285.39 L299.10 285.39 L298.60 285.38 L298.10 285.38 L297.60 285.38 L297.10 285.38 L296.60 285.38 L296.10 285.37 L295.60 285.37 L295.10 285.37 L294.60 285.37 L294.10 285.37 L293.60 285.36 L293.10 285.36 L292.60 285.36 L292.10 285.36 L291.60 285.36 L291.10 285.36 L290.61 285.35 L290.11 285.35 L289.61 285.35 L289.11 285.35 L288.61 285.35 L288.11 285.35 L287.61 285.35 L287.11 285.34 L286.61 285.34 L286.11 285.34 L285.61 285.34 L285.11 285.34 L284.61 285.34 L284.11 285.34 L283.61 285.33 L283.11 285.33 L282.61 285.33 L282.11 285.33 L281.61 285.33 L281.11 285.33 L280.61 285.33 L280.11 285.33 L279.61 285.33 L279.11 285.32 L278.61 285.32 L278.11 285.32 L277.61 285.32 L277.11 285.32 L276.61 285.32 L276.11 285.32 L275.61 285.32 L275.11 285.32 L274.61 285.32 L274.11 285.32 L273.61 285.32 L273.11 285.32 L272.61 285.31 L272.11 285.31 L271.61 285.31 L271.11 285.31 L270.61 285.31 L270.11 285.31 L269.61 285.31 L269.11 285.31 L268.61 285.31 L268.11 285.31 L267.62 285.31 L267.12 285.31 L266.62 285.31 L266.12 285.31 L265.62 285.31 L265.12 285.31 L264.62 285.31 L264.12 285.31 L263.62 285.31 L263.12 285.31 L262.62 285.30 L262.12 285.30 L261.62 285.30 L261.12 285.30 L260.62 285.30 L260.12 285.30 L259.62 285.30 L259.12 285.30 L258.62 285.30 L258.12 285.30 L257.62 285.30 L257.12 285.30 L256.62 285.30 L256.12 285.30 L255.62 285.30 L255.12 285.30 L254.62 285.30 L254.12 285.30 L253.62 285.30 L253.12 285.30 L252.62 285.30 L252.12 285.30 L251.62 285.30 L251.12 285.30 L250.62 285.30 L250.12 285.30 L249.62 285.30 L249.12 285.30 L248.62 285.30 L248.12 285.30 L247.62 285.30 L247.12 285.30 L246.62 285.30 L246.12 285.30 L245.63 285.30 L245.13 285.30 L244.63 285.30 L244.13 285.30 L243.63 285.30 L243.13 285.30 L242.63 285.30 L242.13 285.30 L241.63 285.30 L241.13 285.30 L240.63 285.30 L240.13 285.30 L239.63 285.30 L239.13 285.30 L238.63 285.30 L238.13 285.30 L237.63 285.30 L237.13 285.30 L236.63 285.30 L236.13 285.30 L235.63 285.30 L235.13 285.30 L234.63 285.30 L234.13 285.30 L233.63 285.30 L233.13 285.30 L232.63 285.31 L232.13 285.31 L231.63 285.31 L231.13 285.31 L230.63 285.31 L230.13 285.31 L229.63 285.31 L229.13 285.31 L228.63 285.31 L228.13 285.31 L227.63 285.31 L227.13 285.32 L226.63 285.32 L226.13 285.32 L225.63 285.32 L225.13 285.32 L224.63 285.32 L224.13 285.32 L223.63 285.33 L223.13 285.33 L222.63 285.33 L222.13 285.33 L221.63 285.33 L221.13 285.33 L220.63 285.34 L220.13 285.34 L219.63 285.34 L219.13 285.34 L218.63 285.34 L218.14 285.35 L217.64 285.35 L217.14 285.35 L216.64 285.35 L216.14 285.35 L215.64 285.36 L215.14 285.36 L214.64 285.36 L214.14 285.36 L213.64 285.37 L213.14 285.37 L212.64 285.37 L212.14 285.37 L211.64 285.38 L211.14 285.38 L210.64 285.38 L210.14 285.38 L209.64 285.39 L209.14 285.39 L208.64 285.39 L208.14 285.40 L207.64 285.40 L207.14 285.40 L206.64 285.41 L206.14 285.41 L205.64 285.41 L205.14 285.41 L204.64 285.42 L204.14 285.42 L203.64 285.42 L203.14 285.43 L202.64 285.43 L202.14 285.44 L201.64 285.44 L201.14 285.44 L200.64 285.45 L200.14 285.45 L199.64 285.45 L199.14 285.46 L198.64 285.46 L198.14 285.46 L197.64 285.47 L197.14 285.47 L196.64 285.48 L196.14 285.48 L195.64 285.48 L195.14 285.49 L194.64 285.49 L194.14 285.50 L193.64 285.50 L193.14 285.51 L192.64 285.51 L192.14 285.51 L191.64 285.52 L191.15 285.52 L190.65 285.53 L190.15 285.53 L189.65 285.54 L189.15 285.54 L188.65 285.55 L188.15 285.55 L187.65 285.56 L187.15 285.56 L186.65 285.57 L186.15 285.57 L185.65 285.58 L185.15 285.58 L184.65 285.59 L184.15 285.59 L183.65 285.60 L183.15 285.60 L182.65 285.61 L182.15 285.61 L181.65 285.62 L181.15 285.62 L180.65 285.63 L180.15 285.63 L179.65 285.64 L179.15 285.65 L178.65 285.65 L178.15 285.66 L177.65 285.66 L177.16 285.67 L176.66 285.67 L176.16 285.68 L175.66 285.69 L175.16 285.69 L174.66 285.70 L174.16 285.70 L173.66 285.71 L173.16 285.72 L172.66 285.73 L172.16 285.74 L171.66 285.75 L171.16 285.76 L170.66 285.78 L170.16 285.79 L169.66 285.81 L169.16 285.82 L168.66 285.84 L168.16 285.86 L167.67 285.87 L167.17 285.89 L166.67 285.91 L166.17 285.93 L165.67 285.95 L165.17 285.98 L164.67 286.00 L164.17 286.02 L163.67 286.04 L163.17 286.07 L162.67 286.09 L162.17 286.12 L161.67 286.14 L161.17 286.17 L160.67 286.19 L160.18 286.22 L159.68 286.24 L159.18 286.27 L158.68 286.30 L158.18 286.32 L157.68 286.35 L157.18 286.38 L156.68 286.40 L156.18 286.43 L155.68 286.46 L155.18 286.49 L154.68 286.51 L154.18 286.54 L153.69 286.57 L153.19 286.60 L152.69 286.62 L152.19 286.65 L151.69 286.68 L151.19 286.70 L150.69 286.73 L150.19 286.75 L149.69 286.78 L149.19 286.81 L148.69 286.83 L148.20 286.86 L147.70 286.88 L147.20 286.91 L146.70 286.94 L146.20 286.97 L145.70 287.00 L145.20 287.03 L144.70 287.07 L144.20 287.11 L143.71 287.15 L143.21 287.19 L142.71 287.23 L142.21 287.27 L141.71 287.31 L141.22 287.35 L140.72 287.39 L140.22 287.43 L139.72 287.47 L139.22 287.50 L138.72 287.54 L138.22 287.57 L137.73 287.61 L137.23 287.65 L136.73 287.70 L136.23 287.75 L135.74 287.80 L135.24 287.86 L134.75 287.93 L134.25 287.99 L133.76 288.06 L133.26 288.13 L132.76 288.19 L132.27 288.26 L131.77 288.32 L131.28 288.37 L130.78 288.43 L130.28 288.48 L129.78 288.54 L129.29 288.59 L128.79 288.65 L128.30 288.71 L127.80 288.78 L127.31 288.86 L126.81 288.93 L126.32 289.01 L125.83 289.09 L125.33 289.17 L124.84 289.25 L124.34 289.32 L123.85 289.39 L123.35 289.46 L122.86 289.52 L122.36 289.58 L121.86 289.63 L121.37 289.69 L120.87 289.75 L120.38 289.81 L119.88 289.87 L119.39 289.94 L118.89 290.01 L118.39 290.08 L117.89 290.16 L117.39 290.23 L116.89 290.32 L116.40 290.41 L115.92 290.50 L115.44 290.61 L114.96 290.74 L114.49 290.90 L114.03 291.09 L113.57 291.31 L113.12 291.54 L112.69 291.79 L112.26 292.04 L111.85 292.32 L111.45 292.61 L111.05 292.92 L110.67 293.25 L110.30 293.60" stroke="#00f" stroke-opacity="0.95"/>
</g>
<g stroke="#7a7a7a" stroke-width="0.6" fill="none">
<path d="M74.40 323.4 v-2.0 M74.40 9.5 v2.0" stroke="#999"/>
<path d="M98.38 323.4 v-2.0 M98.38 9.5 v2.0" stroke="#999"/>
<path d="M115.40 323.4 v-2.0 M115.40 9.5 v2.0" stroke="#999"/>
<path d="M128.60 323.4 v-3.7 M128.60 9.5 v3.7"/>
<path d="M139.38 323.4 v-2.0 M139.38 9.5 v2.0" stroke="#999"/>
<path d="M148.50 323.4 v-2.0 M148.50 9.5 v2.0" stroke="#999"/>
<path d="M156.40 323.4 v-2.0 M156.40 9.5 v2.0" stroke="#999"/>
<path d="M163.37 323.4 v-2.0 M163.37 9.5 v2.0" stroke="#999"/>
<path d="M169.60 323.4 v-3.7 M169.60 9.5 v3.7"/>
<path d="M210.60 323.4 v-2.0 M210.60 9.5 v2.0" stroke="#999"/>
<path d="M234.58 323.4 v-2.0 M234.58 9.5 v2.0" stroke="#999"/>
<path d="M251.60 323.4 v-2.0 M251.60 9.5 v2.0" stroke="#999"/>
<path d="M264.80 323.4 v-3.7 M264.80 9.5 v3.7"/>
<path d="M275.58 323.4 v-2.0 M275.58 9.5 v2.0" stroke="#999"/>
<path d="M284.70 323.4 v-2.0 M284.70 9.5 v2.0" stroke="#999"/>
<path d="M292.60 323.4 v-2.0 M292.60 9.5 v2.0" stroke="#999"/>
<path d="M299.57 323.4 v-2.0 M299.57 9.5 v2.0" stroke="#999"/>
<path d="M305.80 323.4 v-3.7 M305.80 9.5 v3.7"/>
<path d="M346.80 323.4 v-2.0 M346.80 9.5 v2.0" stroke="#999"/>
<path d="M370.78 323.4 v-2.0 M370.78 9.5 v2.0" stroke="#999"/>
<path d="M73.85 94.30 h3.7 M387.4 94.30 h-3.7"/>
<path d="M73.85 68.71 h2.0 M387.4 68.71 h-2.0" stroke="#999"/>
<path d="M73.85 53.74 h2.0 M387.4 53.74 h-2.0" stroke="#999"/>
<path d="M73.85 43.12 h2.0 M387.4 43.12 h-2.0" stroke="#999"/>
<path d="M73.85 34.89 h2.0 M387.4 34.89 h-2.0" stroke="#999"/>
<path d="M73.85 28.16 h2.0 M387.4 28.16 h-2.0" stroke="#999"/>
<path d="M73.85 22.47 h2.0 M387.4 22.47 h-2.0" stroke="#999"/>
<path d="M73.85 17.54 h2.0 M387.4 17.54 h-2.0" stroke="#999"/>
<path d="M73.85 13.19 h2.0 M387.4 13.19 h-2.0" stroke="#999"/>
<path d="M73.85 179.30 h3.7 M387.4 179.30 h-3.7"/>
<path d="M73.85 153.71 h2.0 M387.4 153.71 h-2.0" stroke="#999"/>
<path d="M73.85 138.74 h2.0 M387.4 138.74 h-2.0" stroke="#999"/>
<path d="M73.85 128.12 h2.0 M387.4 128.12 h-2.0" stroke="#999"/>
<path d="M73.85 119.89 h2.0 M387.4 119.89 h-2.0" stroke="#999"/>
<path d="M73.85 113.16 h2.0 M387.4 113.16 h-2.0" stroke="#999"/>
<path d="M73.85 107.47 h2.0 M387.4 107.47 h-2.0" stroke="#999"/>
<path d="M73.85 102.54 h2.0 M387.4 102.54 h-2.0" stroke="#999"/>
<path d="M73.85 98.19 h2.0 M387.4 98.19 h-2.0" stroke="#999"/>
<path d="M73.85 264.30 h3.7 M387.4 264.30 h-3.7"/>
<path d="M73.85 238.71 h2.0 M387.4 238.71 h-2.0" stroke="#999"/>
<path d="M73.85 223.74 h2.0 M387.4 223.74 h-2.0" stroke="#999"/>
<path d="M73.85 213.12 h2.0 M387.4 213.12 h-2.0" stroke="#999"/>
<path d="M73.85 204.89 h2.0 M387.4 204.89 h-2.0" stroke="#999"/>
<path d="M73.85 198.16 h2.0 M387.4 198.16 h-2.0" stroke="#999"/>
<path d="M73.85 192.47 h2.0 M387.4 192.47 h-2.0" stroke="#999"/>
<path d="M73.85 187.54 h2.0 M387.4 187.54 h-2.0" stroke="#999"/>
<path d="M73.85 183.19 h2.0 M387.4 183.19 h-2.0" stroke="#999"/>
<path d="M73.85 308.74 h2.0 M387.4 308.74 h-2.0" stroke="#999"/>
<path d="M73.85 298.12 h2.0 M387.4 298.12 h-2.0" stroke="#999"/>
<path d="M73.85 289.89 h2.0 M387.4 289.89 h-2.0" stroke="#999"/>
<path d="M73.85 283.16 h2.0 M387.4 283.16 h-2.0" stroke="#999"/>
<path d="M73.85 277.47 h2.0 M387.4 277.47 h-2.0" stroke="#999"/>
<path d="M73.85 272.54 h2.0 M387.4 272.54 h-2.0" stroke="#999"/>
<path d="M73.85 268.19 h2.0 M387.4 268.19 h-2.0" stroke="#999"/>
</g>
<rect x="73.85" y="9.5" width="313.54999999999995" height="313.9" fill="none" stroke="#8c8c8c" stroke-width="1"/>
<g font-family="'Liberation Sans', Arial, sans-serif" font-weight="bold" font-size="17" fill="#000" stroke="#000" stroke-width="0.3" stroke-linejoin="round">
<text x="70.6" y="15.10" text-anchor="end" font-size="17.4">1</text>
<text x="70.2" y="100.50" text-anchor="end" font-size="17.4">0.100</text>
<text x="70.2" y="185.50" text-anchor="end" font-size="17.4">0.010</text>
<text x="70.2" y="270.50" text-anchor="end" font-size="17.4">0.001</text>
<text x="128.00" y="342.2" text-anchor="middle">500</text>
<text x="169.00" y="342.2" text-anchor="middle">1000</text>
<text x="264.20" y="342.2" text-anchor="middle">5000</text>
<text x="293.4" y="344.5">10<tspan font-size="11.4" dx="-0.6" dy="-7.8">4</tspan></text>
<text x="231.2" y="372" text-anchor="middle" font-size="17.3">MGr(GeV)</text>
<text transform="translate(15.2 166.4) rotate(-90)" text-anchor="middle">BR</text>
<text x="320" y="41.4" font-size="19.2">Bulk</text>
<path d="M314.9 101.9 H336.8" stroke="#000" stroke-width="2.4" fill="none"/>
<text x="345.3" y="106.2" font-size="17.4">ZZ</text>
<path d="M314.9 134.2 H336.8" stroke="#f00" stroke-width="2.4" fill="none"/>
<text x="345.3" y="138.2" font-size="17.4">WW</text>
<path d="M314.9 166.0 H336.8" stroke="#0f0" stroke-width="2.4" fill="none"/>
<text x="345.3" y="170.1" font-size="17.4">hh</text>
<path d="M314.9 196.9 H336.8" stroke="#996633" stroke-width="2.4" fill="none"/>
<text x="345.3" y="200.9" font-size="17.4">tt</text>
<path d="M314.9 227.1 H336.8" stroke="#f0f" stroke-width="2.4" fill="none"/>
<text x="345.3" y="231.4" font-size="17.4">gg</text>
<path d="M314.9 259.5 H336.8" stroke="#00f" stroke-width="2.4" fill="none"/>
<text transform="translate(346 264.1) scale(0.95 1.04)" font-family="'DejaVu Sans', 'Liberation Sans', sans-serif" font-style="italic" font-size="16">γγ</text>
</g>
</svg>
</body></html>
